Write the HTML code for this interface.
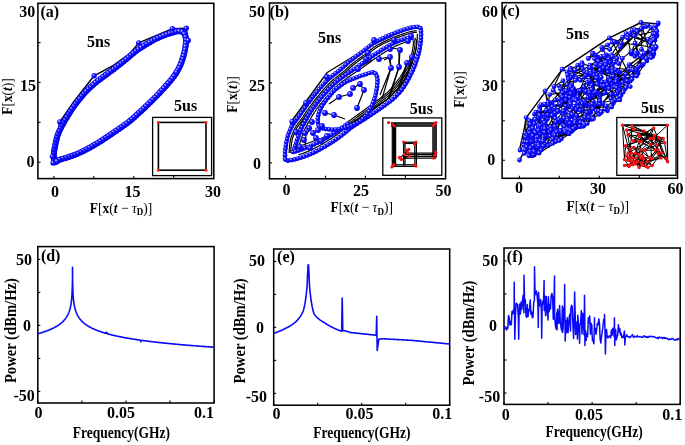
<!DOCTYPE html>
<html><head><meta charset="utf-8"><title>Figure</title>
<style>html,body{margin:0;padding:0;background:#fff;}svg{display:block;filter:blur(0.35px);}text{font-family:"Liberation Serif",serif;}</style>
</head><body>
<svg width="685" height="445" viewBox="0 0 685 445"><defs>
<radialGradient id="sb" cx="0.36" cy="0.34" r="0.62">
<stop offset="0" stop-color="#f0f0ff"/><stop offset="0.18" stop-color="#8080ff"/><stop offset="0.42" stop-color="#1414ff"/><stop offset="1" stop-color="#0000e8"/>
</radialGradient>
<radialGradient id="sr" cx="0.4" cy="0.38" r="0.6">
<stop offset="0" stop-color="#ffd0d0"/><stop offset="0.35" stop-color="#ff3030"/><stop offset="1" stop-color="#e00000"/>
</radialGradient>
</defs>
<path d="M55.5 147 L58.7 127.5 L59.8 122 L72.9 102.8 L94.1 75.8 L112 66.2 L130 53.3 L138.7 42.9 L172.4 28.7 L186.2 28.2 L188.2 40.4 L176.5 72.5" fill="none" stroke="#000" stroke-width="1.4" stroke-linejoin="round" />
<path d="M54.7 162 L54.5 161.6 L54.3 161 L54.1 160.3 L54 159.4 L53.9 158.5 L53.9 157.5 L53.8 156.5 L53.8 155.4 L53.9 154.4 L53.9 153.5 L54 152.6 L54.1 151.7 L54.2 150.7 L54.3 149.8 L54.5 148.8 L54.7 147.8 L54.9 146.9 L55.1 145.9 L55.3 145 L55.5 144 L55.7 143.1 L55.9 142.1 L56.1 141.1 L56.3 140.2 L56.6 139.2 L56.8 138.3 L57 137.4 L57.3 136.4 L57.6 135.5 L57.9 134.6 L58.2 133.7 L58.6 132.8 L58.9 132 L59.3 131.1 L59.7 130.3 L60.1 129.5 L60.5 128.6 L60.9 127.8 L61.3 126.9 L61.8 126 L62.3 125.1 L62.8 124.2 L63.3 123.3 L63.8 122.3 L64.3 121.4 L64.9 120.5 L65.5 119.5 L66.1 118.5 L66.7 117.5 L67.3 116.5 L67.9 115.5 L68.6 114.4 L69.2 113.4 L69.9 112.3 L70.6 111.2 L71.3 110.1 L72.1 109 L72.8 107.8 L73.7 106.7 L74.5 105.5 L75.4 104.3 L76.4 103 L77.4 101.7 L78.4 100.4 L79.5 99.1 L80.5 97.8 L81.6 96.5 L82.6 95.3 L83.6 94.1 L84.6 93 L85.5 92 L86.4 91 L87.3 90.1 L88.1 89.3 L89 88.5 L89.8 87.7 L90.7 86.9 L91.6 86.1 L92.5 85.3 L93.4 84.5 L94.4 83.7 L95.4 82.9 L96.4 82 L97.4 81.2 L98.4 80.4 L99.5 79.6 L100.5 78.8 L101.5 78.1 L102.6 77.3 L103.6 76.5 L104.6 75.7 L105.6 75 L106.6 74.3 L107.6 73.5 L108.6 72.8 L109.6 72.1 L110.6 71.4 L111.7 70.6 L112.7 69.8 L113.8 69 L114.9 68.2 L116 67.3 L117.2 66.4 L118.4 65.5 L119.6 64.5 L120.8 63.6 L122 62.6 L123.1 61.7 L124.3 60.7 L125.5 59.8 L126.6 58.9 L127.8 57.9 L128.9 56.9 L130 56 L131.1 55 L132.3 54 L133.4 53.1 L134.6 52.1 L135.8 51.2 L137 50.3 L138.3 49.4 L139.6 48.5 L141 47.6 L142.4 46.7 L143.8 45.8 L145.2 44.9 L146.5 44.1 L147.9 43.3 L149.2 42.5 L150.4 41.8 L151.6 41.1 L152.7 40.5 L153.7 39.9 L154.7 39.4 L155.7 38.9 L156.7 38.4 L157.7 37.9 L158.7 37.5 L159.7 37 L160.7 36.6 L161.7 36.2 L162.8 35.7 L163.9 35.3 L164.9 35 L166 34.6 L167 34.2 L168.1 33.9 L169.1 33.6 L170 33.3 L170.9 33 L171.7 32.7 L172.6 32.5 L173.3 32.2 L174.1 32 L174.8 31.8 L175.5 31.6 L176.1 31.5 L176.8 31.3 L177.4 31.3 L178 31.2 L178.6 31.2 L179.2 31.2 L179.8 31.2 L180.3 31.3 L180.9 31.4 L181.4 31.5 L181.8 31.7 L182.3 31.9 L182.7 32.1 L183.1 32.3 L183.5 32.6 L183.8 32.9 L184 33.2 L184.3 33.5 L184.5 33.9 L184.7 34.3 L184.9 34.7 L185.1 35.1 L185.3 35.6 L185.4 36 L185.5 36.4 L185.6 36.9 L185.7 37.4 L185.8 37.9 L185.9 38.4 L185.9 38.9 L186 39.4 L186 39.9 L186 40.5 L186 41 L186 41.5 L186 42.1 L186 42.6 L185.9 43.2 L185.9 43.7 L185.8 44.3 L185.7 44.9 L185.7 45.4 L185.6 46 L185.5 46.6 L185.4 47.2 L185.3 47.8 L185.2 48.4 L185.1 49 L185 49.6 L184.8 50.2 L184.7 50.9 L184.6 51.5 L184.4 52.1 L184.3 52.7 L184.2 53.3 L184 53.9 L183.9 54.5 L183.7 55.1 L183.5 55.7 L183.4 56.3 L183.2 56.9 L183 57.5 L182.8 58.2 L182.6 58.8 L182.4 59.5 L182.2 60.1 L182 60.8 L181.8 61.4 L181.5 62.1 L181.3 62.8 L181 63.5 L180.7 64.2 L180.4 65 L180 65.8 L179.6 66.6 L179.2 67.5 L178.7 68.4 L178.2 69.4 L177.7 70.3 L177.1 71.3 L176.6 72.3 L176 73.3 L175.3 74.2 L174.7 75.2 L174 76.1 L173.4 77.1 L172.6 78 L171.9 78.9 L171.1 79.9 L170.4 80.8 L169.6 81.8 L168.7 82.7 L167.9 83.7 L167 84.7 L166.1 85.7 L165.1 86.8 L164.2 87.9 L163.1 89 L162.1 90.1 L161.1 91.2 L160 92.3 L159 93.4 L158 94.5 L157 95.5 L156 96.5 L155 97.5 L154 98.5 L153 99.5 L152.1 100.5 L151.1 101.4 L150.2 102.3 L149.2 103.2 L148.3 104.1 L147.5 104.9 L146.7 105.7 L146 106.3 L145.4 107 L144.8 107.6 L144.2 108.1 L143.5 108.7 L142.9 109.3 L142.2 110 L141.4 110.7 L140.5 111.5 L139.5 112.4 L138.5 113.3 L137.4 114.3 L136.3 115.4 L135.1 116.5 L133.9 117.6 L132.6 118.7 L131.3 119.8 L130 120.9 L128.6 122 L127.2 123.1 L125.7 124.2 L124.2 125.3 L122.6 126.4 L121 127.5 L119.4 128.6 L117.7 129.7 L116.1 130.8 L114.5 131.9 L112.9 133 L111.3 134.1 L109.8 135.1 L108.2 136.2 L106.6 137.3 L105.1 138.3 L103.5 139.3 L101.9 140.4 L100.3 141.4 L98.8 142.3 L97.2 143.3 L95.6 144.2 L94 145.2 L92.4 146.1 L90.8 147 L89.2 147.9 L87.6 148.8 L86 149.6 L84.4 150.4 L82.9 151.2 L81.5 151.9 L80.1 152.6 L78.7 153.2 L77.4 153.7 L76.1 154.3 L74.8 154.8 L73.6 155.2 L72.4 155.7 L71.2 156.1 L70 156.5 L68.9 156.9 L67.8 157.3 L66.7 157.6 L65.7 157.9 L64.6 158.2 L63.7 158.5 L62.7 158.8 L61.8 159 L60.9 159.3 L60.1 159.5 L59.4 159.8 L58.7 160.1 L58.1 160.5 L57.5 160.8 L57 161.2 L56.5 161.6 L56.1 161.9 L55.7 162.1 L55.3 162.3 L55 162.2 L54.7 162" fill="none" stroke="#0a0afa" stroke-width="6.0" stroke-linejoin="round" />
<circle cx="54.7" cy="162" r="2.9" fill="url(#sb)"/><circle cx="53.9" cy="158.9" r="2.9" fill="url(#sb)"/><circle cx="53.8" cy="155.7" r="2.9" fill="url(#sb)"/><circle cx="54" cy="152.5" r="2.9" fill="url(#sb)"/><circle cx="54.4" cy="149.4" r="2.9" fill="url(#sb)"/><circle cx="55" cy="146.2" r="2.9" fill="url(#sb)"/><circle cx="55.7" cy="143.1" r="2.9" fill="url(#sb)"/><circle cx="56.4" cy="140" r="2.9" fill="url(#sb)"/><circle cx="57.2" cy="136.9" r="2.9" fill="url(#sb)"/><circle cx="58.2" cy="133.8" r="2.9" fill="url(#sb)"/><circle cx="59.4" cy="130.9" r="2.9" fill="url(#sb)"/><circle cx="60.8" cy="128" r="2.9" fill="url(#sb)"/><circle cx="62.2" cy="125.1" r="2.9" fill="url(#sb)"/><circle cx="63.8" cy="122.3" r="2.9" fill="url(#sb)"/><circle cx="65.4" cy="119.6" r="2.9" fill="url(#sb)"/><circle cx="67.1" cy="116.9" r="2.9" fill="url(#sb)"/><circle cx="68.8" cy="114.1" r="2.9" fill="url(#sb)"/><circle cx="70.5" cy="111.4" r="2.9" fill="url(#sb)"/><circle cx="72.2" cy="108.7" r="2.9" fill="url(#sb)"/><circle cx="74.1" cy="106.1" r="2.9" fill="url(#sb)"/><circle cx="76" cy="103.6" r="2.9" fill="url(#sb)"/><circle cx="77.9" cy="101" r="2.9" fill="url(#sb)"/><circle cx="79.9" cy="98.5" r="2.9" fill="url(#sb)"/><circle cx="82" cy="96.1" r="2.9" fill="url(#sb)"/><circle cx="84" cy="93.6" r="2.9" fill="url(#sb)"/><circle cx="86.2" cy="91.3" r="2.9" fill="url(#sb)"/><circle cx="88.5" cy="89" r="2.9" fill="url(#sb)"/><circle cx="90.8" cy="86.8" r="2.9" fill="url(#sb)"/><circle cx="93.2" cy="84.7" r="2.9" fill="url(#sb)"/><circle cx="95.6" cy="82.6" r="2.9" fill="url(#sb)"/><circle cx="98.1" cy="80.6" r="2.9" fill="url(#sb)"/><circle cx="100.7" cy="78.7" r="2.9" fill="url(#sb)"/><circle cx="103.2" cy="76.8" r="2.9" fill="url(#sb)"/><circle cx="105.8" cy="74.9" r="2.9" fill="url(#sb)"/><circle cx="108.4" cy="73" r="2.9" fill="url(#sb)"/><circle cx="111" cy="71.1" r="2.9" fill="url(#sb)"/><circle cx="113.6" cy="69.2" r="2.9" fill="url(#sb)"/><circle cx="116.1" cy="67.2" r="2.9" fill="url(#sb)"/><circle cx="118.6" cy="65.3" r="2.9" fill="url(#sb)"/><circle cx="121.1" cy="63.3" r="2.9" fill="url(#sb)"/><circle cx="123.6" cy="61.3" r="2.9" fill="url(#sb)"/><circle cx="126.1" cy="59.3" r="2.9" fill="url(#sb)"/><circle cx="128.6" cy="57.2" r="2.9" fill="url(#sb)"/><circle cx="131" cy="55.1" r="2.9" fill="url(#sb)"/><circle cx="133.4" cy="53.1" r="2.9" fill="url(#sb)"/><circle cx="135.9" cy="51.1" r="2.9" fill="url(#sb)"/><circle cx="138.5" cy="49.2" r="2.9" fill="url(#sb)"/><circle cx="141.2" cy="47.4" r="2.9" fill="url(#sb)"/><circle cx="143.9" cy="45.7" r="2.9" fill="url(#sb)"/><circle cx="146.6" cy="44" r="2.9" fill="url(#sb)"/><circle cx="149.4" cy="42.4" r="2.9" fill="url(#sb)"/><circle cx="152.1" cy="40.8" r="2.9" fill="url(#sb)"/><circle cx="155" cy="39.3" r="2.9" fill="url(#sb)"/><circle cx="157.8" cy="37.9" r="2.9" fill="url(#sb)"/><circle cx="160.8" cy="36.6" r="2.9" fill="url(#sb)"/><circle cx="163.7" cy="35.4" r="2.9" fill="url(#sb)"/><circle cx="166.7" cy="34.3" r="2.9" fill="url(#sb)"/><circle cx="169.8" cy="33.3" r="2.9" fill="url(#sb)"/><circle cx="172.8" cy="32.4" r="2.9" fill="url(#sb)"/><circle cx="175.9" cy="31.5" r="2.9" fill="url(#sb)"/><circle cx="179.1" cy="31.2" r="2.9" fill="url(#sb)"/><circle cx="182.2" cy="31.8" r="2.9" fill="url(#sb)"/><circle cx="184.5" cy="33.9" r="2.9" fill="url(#sb)"/><circle cx="185.6" cy="36.9" r="2.9" fill="url(#sb)"/><circle cx="186" cy="40.1" r="2.9" fill="url(#sb)"/><circle cx="185.9" cy="43.3" r="2.9" fill="url(#sb)"/><circle cx="185.5" cy="46.5" r="2.9" fill="url(#sb)"/><circle cx="185" cy="49.6" r="2.9" fill="url(#sb)"/><circle cx="184.3" cy="52.8" r="2.9" fill="url(#sb)"/><circle cx="183.5" cy="55.9" r="2.9" fill="url(#sb)"/><circle cx="182.6" cy="58.9" r="2.9" fill="url(#sb)"/><circle cx="181.6" cy="62" r="2.9" fill="url(#sb)"/><circle cx="180.4" cy="64.9" r="2.9" fill="url(#sb)"/><circle cx="179" cy="67.8" r="2.9" fill="url(#sb)"/><circle cx="177.5" cy="70.6" r="2.9" fill="url(#sb)"/><circle cx="175.9" cy="73.4" r="2.9" fill="url(#sb)"/><circle cx="174.1" cy="76.1" r="2.9" fill="url(#sb)"/><circle cx="172.2" cy="78.6" r="2.9" fill="url(#sb)"/><circle cx="170.1" cy="81.1" r="2.9" fill="url(#sb)"/><circle cx="168" cy="83.5" r="2.9" fill="url(#sb)"/><circle cx="165.9" cy="85.9" r="2.9" fill="url(#sb)"/><circle cx="163.8" cy="88.3" r="2.9" fill="url(#sb)"/><circle cx="161.6" cy="90.6" r="2.9" fill="url(#sb)"/><circle cx="159.4" cy="93" r="2.9" fill="url(#sb)"/><circle cx="157.2" cy="95.3" r="2.9" fill="url(#sb)"/><circle cx="155" cy="97.6" r="2.9" fill="url(#sb)"/><circle cx="152.7" cy="99.8" r="2.9" fill="url(#sb)"/><circle cx="150.4" cy="102.1" r="2.9" fill="url(#sb)"/><circle cx="148.1" cy="104.3" r="2.9" fill="url(#sb)"/><circle cx="145.8" cy="106.5" r="2.9" fill="url(#sb)"/><circle cx="143.5" cy="108.7" r="2.9" fill="url(#sb)"/><circle cx="141.2" cy="110.9" r="2.9" fill="url(#sb)"/><circle cx="138.8" cy="113.1" r="2.9" fill="url(#sb)"/><circle cx="136.5" cy="115.2" r="2.9" fill="url(#sb)"/><circle cx="134.1" cy="117.4" r="2.9" fill="url(#sb)"/><circle cx="131.7" cy="119.5" r="2.9" fill="url(#sb)"/><circle cx="129.2" cy="121.5" r="2.9" fill="url(#sb)"/><circle cx="126.7" cy="123.5" r="2.9" fill="url(#sb)"/><circle cx="124.1" cy="125.3" r="2.9" fill="url(#sb)"/><circle cx="121.5" cy="127.2" r="2.9" fill="url(#sb)"/><circle cx="118.8" cy="129" r="2.9" fill="url(#sb)"/><circle cx="116.2" cy="130.8" r="2.9" fill="url(#sb)"/><circle cx="113.5" cy="132.6" r="2.9" fill="url(#sb)"/><circle cx="110.9" cy="134.4" r="2.9" fill="url(#sb)"/><circle cx="108.2" cy="136.2" r="2.9" fill="url(#sb)"/><circle cx="105.6" cy="138" r="2.9" fill="url(#sb)"/><circle cx="102.9" cy="139.7" r="2.9" fill="url(#sb)"/><circle cx="100.2" cy="141.4" r="2.9" fill="url(#sb)"/><circle cx="97.5" cy="143.1" r="2.9" fill="url(#sb)"/><circle cx="94.7" cy="144.8" r="2.9" fill="url(#sb)"/><circle cx="92" cy="146.4" r="2.9" fill="url(#sb)"/><circle cx="89.2" cy="147.9" r="2.9" fill="url(#sb)"/><circle cx="86.3" cy="149.4" r="2.9" fill="url(#sb)"/><circle cx="83.5" cy="150.9" r="2.9" fill="url(#sb)"/><circle cx="80.6" cy="152.3" r="2.9" fill="url(#sb)"/><circle cx="77.7" cy="153.6" r="2.9" fill="url(#sb)"/><circle cx="74.7" cy="154.8" r="2.9" fill="url(#sb)"/><circle cx="71.7" cy="155.9" r="2.9" fill="url(#sb)"/><circle cx="68.7" cy="157" r="2.9" fill="url(#sb)"/><circle cx="65.7" cy="157.9" r="2.9" fill="url(#sb)"/><circle cx="62.6" cy="158.8" r="2.9" fill="url(#sb)"/><circle cx="59.5" cy="159.8" r="2.9" fill="url(#sb)"/><circle cx="56.8" cy="161.4" r="2.9" fill="url(#sb)"/>
<circle cx="59.8" cy="122" r="2.7" fill="url(#sb)"/><circle cx="94.1" cy="75.8" r="2.7" fill="url(#sb)"/><circle cx="138.7" cy="42.9" r="2.7" fill="url(#sb)"/><circle cx="172.4" cy="28.7" r="2.7" fill="url(#sb)"/><circle cx="186.2" cy="28.2" r="2.7" fill="url(#sb)"/><circle cx="188.2" cy="40.4" r="2.7" fill="url(#sb)"/><circle cx="176.5" cy="72.5" r="2.7" fill="url(#sb)"/><circle cx="53.1" cy="162.9" r="2.7" fill="url(#sb)"/><circle cx="52.4" cy="156.6" r="2.7" fill="url(#sb)"/>
<path d="M285.5 151 L291.3 121.5 L327.2 72.5 L372 45 L412 27" fill="none" stroke="#000" stroke-width="1.3" stroke-linejoin="round" />
<path d="M289.1 152.9 L289.2 150.3 L289.5 147.7 L289.7 145.1 L290 142.7 L290.3 140.7 L290.7 139 L291.2 137.3 L291.7 135.7 L292.3 134.1 L292.9 132.7 L293.5 131.2 L294.1 129.9 L294.7 128.6 L295.3 127.5 L295.8 126.7 L296.3 125.9 L296.8 125.2 L297.5 124.4 L298.2 123.4 L299 122.3 L300 121.1 L300.9 119.6 L302 118.1 L303.1 116.5 L304.2 114.8 L305.4 113.1 L306.5 111.4 L307.7 109.8 L308.9 108.1 L310.1 106.5 L311.3 104.9 L312.5 103.3 L313.7 101.7 L314.9 100.1 L316.2 98.5 L317.5 96.9 L318.8 95.3 L320.1 93.7 L321.5 92 L322.9 90.4 L324.3 88.7 L325.7 87.1 L327.1 85.6 L328.5 84.1 L330 82.6 L331.5 81.2 L333.1 79.8 L334.9 78.4 L336.6 77 L338.4 75.7 L340.1 74.3 L341.8 73 L343.3 71.8 L344.7 70.6 L345.9 69.5 L347 68.5 L348 67.5 L349 66.6 L350 65.7 L351.1 64.8 L352.3 63.8 L353.6 62.8 L355 61.7 L356.4 60.6 L358 59.5 L359.5 58.3 L361.1 57.2 L362.6 56 L364.2 54.9 L365.7 53.7 L367.2 52.5 L368.6 51.4 L370 50.3 L371.4 49.2 L372.8 48.1 L374.3 47.1 L375.9 46.1 L377.6 45.1 L379.4 44.1 L381.3 43.1 L383.2 42.1 L385.2 41.1 L387.3 40.1 L389.3 39.2 L391.4 38.3 L393.6 37.4 L395.9 36.5 L398.2 35.6 L400.6 34.7 L402.9 33.9 L405.1 33.2 L407.2 32.5 L409 32 L410.5 31.6 L411.9 31.3 L413.3 31.1 L414.5 30.9 L415.6 30.8 L416.7 30.7" fill="none" stroke="#000" stroke-width="1.2" stroke-linejoin="round" />
<path d="M290.7 153 L290.8 150.4 L291 147.8 L291.3 145.2 L291.6 142.9 L291.9 141 L292.3 139.3 L292.7 137.7 L293.2 136.2 L293.8 134.7 L294.3 133.3 L294.9 131.9 L295.6 130.6 L296.2 129.3 L296.7 128.3 L297.1 127.5 L297.6 126.8 L298.1 126.1 L298.7 125.3 L299.5 124.4 L300.3 123.3 L301.3 122 L302.2 120.5 L303.3 119 L304.4 117.4 L305.5 115.7 L306.7 114 L307.9 112.3 L309 110.7 L310.2 109.1 L311.4 107.5 L312.6 105.9 L313.8 104.3 L315 102.7 L316.2 101.1 L317.4 99.5 L318.7 97.9 L320 96.3 L321.4 94.7 L322.7 93 L324.1 91.4 L325.5 89.8 L326.9 88.2 L328.3 86.7 L329.7 85.2 L331.1 83.8 L332.6 82.4 L334.2 81 L335.9 79.7 L337.6 78.3 L339.4 76.9 L341.1 75.6 L342.8 74.3 L344.3 73 L345.7 71.8 L347 70.7 L348.1 69.6 L349.1 68.7 L350.1 67.8 L351.1 66.9 L352.1 66 L353.3 65 L354.6 64 L355.9 63 L357.4 61.9 L358.9 60.7 L360.4 59.6 L362 58.5 L363.6 57.3 L365.1 56.1 L366.7 55 L368.2 53.8 L369.6 52.6 L371 51.5 L372.4 50.4 L373.7 49.4 L375.2 48.4 L376.7 47.4 L378.4 46.5 L380.2 45.5 L382 44.5 L383.9 43.5 L385.9 42.5 L387.9 41.6 L390 40.7 L392 39.8 L394.2 38.9 L396.4 38 L398.8 37.1 L401.1 36.2 L403.4 35.4 L405.6 34.7 L407.7 34 L409.4 33.5 L410.9 33.1 L412.2 32.9 L413.5 32.7 L414.7 32.5 L415.8 32.4 L416.8 32.3" fill="none" stroke="#000" stroke-width="1.2" stroke-linejoin="round" />
<path d="M297.7 149 L298.2 147.6 L298.7 146.2 L299.3 144.7 L299.8 143.2 L300.4 141.6 L300.9 139.8 L301.5 138 L302.2 136.2 L302.8 134.4 L303.4 132.6 L304.1 130.9 L304.7 129.4 L305.4 128 L306 126.6 L306.8 125.3 L307.5 123.9 L308.2 122.6 L309 121.4 L309.8 120.1 L310.5 118.8 L311.2 117.5 L311.9 116.4 L312.6 115.2 L313.3 114.2 L313.9 113.1 L314.7 112 L315.5 110.8 L316.3 109.5 L317.3 108.2 L318.4 106.8 L319.5 105.3 L320.7 103.8 L321.9 102.3 L323.1 100.8 L324.4 99.3 L325.6 97.8 L327 96.3 L328.3 94.8 L329.7 93.3 L331.1 91.8 L332.5 90.3 L333.9 88.9 L335.4 87.4 L336.8 86.1 L338.3 84.8 L339.9 83.5 L341.4 82.3 L343 81.1 L344.7 79.9 L346.3 78.7 L347.9 77.5 L349.5 76.3 L351.1 75.2 L352.6 74.2 L354.1 73.2 L355.6 72.2 L357.2 71.1 L358.7 70.1 L360.3 69 L362 67.9 L363.7 66.7 L365.4 65.4 L367.1 64.2 L368.8 62.9 L370.6 61.7 L372.3 60.4 L374.1 59.1 L376 57.9 L377.9 56.6 L379.8 55.3 L381.8 54 L383.9 52.7 L385.9 51.4 L387.9 50.2 L389.8 49.1 L391.7 48.1 L393.5 47.2 L395.3 46.3 L397.1 45.4 L398.9 44.7 L400.6 44 L402.2 43.3 L403.7 42.8 L405 42.3 L406.2 42 L407.2 41.8" fill="none" stroke="#000" stroke-width="1.2" stroke-linejoin="round" />
<path d="M417.4 33.8 L417.3 35.8 L417.3 37.9 L417.1 40.2 L417 42.4 L416.8 44.5 L416.5 46.5 L416.2 48.3 L415.8 50.1 L415.4 52 L414.9 53.8 L414.3 55.6 L413.8 57.4 L413.2 59.2 L412.7 60.9 L412.1 62.5 L411.6 63.9 L411.1 65.4 L410.5 66.7 L409.9 68.1 L409.3 69.5 L408.6 70.9 L407.9 72.4 L407 74.1 L406.1 75.8 L405.2 77.6 L404.2 79.4 L403.2 81.2 L402.2 82.9 L401.1 84.5 L400.1 86 L399.1 87.3 L398.1 88.6 L397 89.9 L395.9 91.1 L394.8 92.2 L393.7 93.4 L392.7 94.4 L391.6 95.5 L390.6 96.4 L389.8 97.1 L389.1 97.7 L388.4 98.3 L387.5 98.9 L386.5 99.7 L385.3 100.6 L383.8 101.7 L381.9 103 L379.7 104.5 L377.4 106.2 L374.8 107.9 L372.3 109.7 L369.7 111.5 L367.3 113.1 L365.1 114.6 L363 115.9 L361.1 117.1 L359.2 118.3 L357.3 119.4 L355.4 120.6 L353.6 121.7 L351.8 122.9 L350 124.2 L348.2 125.5 L346.5 126.8 L344.9 128.1 L343.4 129.4 L341.9 130.7 L340.4 131.9 L339 133.1 L337.5 134.2 L336 135.2 L334.6 136.3 L333.1 137.3 L331.6 138.3 L330.1 139.2 L328.6 140.1 L327.1 141.1 L325.6 142 L324 142.9 L322.5 143.9 L321 144.8 L319.5 145.6 L317.9 146.5 L316.4 147.3 L314.9 148.1 L313.5 148.9 L312 149.6 L310.5 150.2 L309 150.9 L307.6 151.5 L306.1 152.1 L304.6 152.6 L303.2 153.2 L301.7 153.7 L300.2 154.2 L298.5 154.6" fill="none" stroke="#000" stroke-width="1.2" stroke-linejoin="round" />
<path d="M296 150 L300 128 L310 112 L318 104" fill="none" stroke="#000" stroke-width="1.2" stroke-linejoin="round" />
<path d="M305 148 L306 134 L312 128" fill="none" stroke="#000" stroke-width="1.2" stroke-linejoin="round" />
<path d="M384 60 L390 57 L391 68 L382 99" fill="none" stroke="#000" stroke-width="1.2" stroke-linejoin="round" />
<path d="M400 50 L399 67 L389 99" fill="none" stroke="#000" stroke-width="1.2" stroke-linejoin="round" />
<path d="M407 63 L398 95" fill="none" stroke="#000" stroke-width="1.2" stroke-linejoin="round" />
<path d="M412 57 L405 84" fill="none" stroke="#000" stroke-width="1.2" stroke-linejoin="round" />
<path d="M379 59 L389 57" fill="none" stroke="#000" stroke-width="1.2" stroke-linejoin="round" />
<path d="M389 48 L399 49" fill="none" stroke="#000" stroke-width="1.2" stroke-linejoin="round" />
<path d="M389 57 L391 68" fill="none" stroke="#000" stroke-width="1.2" stroke-linejoin="round" />
<path d="M399 49 L399 67" fill="none" stroke="#000" stroke-width="1.2" stroke-linejoin="round" />
<path d="M391 68 L380 95" fill="none" stroke="#000" stroke-width="1.2" stroke-linejoin="round" />
<path d="M399 67 L388 99" fill="none" stroke="#000" stroke-width="1.2" stroke-linejoin="round" />
<path d="M407 62 L396 95" fill="none" stroke="#000" stroke-width="1.2" stroke-linejoin="round" />
<path d="M394 40 L408 41" fill="none" stroke="#000" stroke-width="1.2" stroke-linejoin="round" />
<path d="M325 113 L334 115 L345 119" fill="none" stroke="#000" stroke-width="1.2" stroke-linejoin="round" />
<path d="M329 104 L339 97 L350 94" fill="none" stroke="#000" stroke-width="1.2" stroke-linejoin="round" />
<path d="M353 88 L360 84 L364 90 L357 108" fill="none" stroke="#000" stroke-width="1.2" stroke-linejoin="round" />
<path d="M356 125 L372 110 L386 100" fill="none" stroke="#000" stroke-width="1.2" stroke-linejoin="round" />
<path d="M340 130 L362 118 L380 104" fill="none" stroke="#000" stroke-width="1.2" stroke-linejoin="round" />
<path d="M300 146 L322 138 L344 128 L366 114 L388 99 L404 82 L413 62" fill="none" stroke="#000" stroke-width="1.2" stroke-linejoin="round" />
<path d="M318 104 L326 92 L340 80 L356 69 L372 60" fill="none" stroke="#000" stroke-width="1.2" stroke-linejoin="round" />
<path d="M296 136 L303 120 L316 104" fill="none" stroke="#000" stroke-width="1.2" stroke-linejoin="round" />
<path d="M413.6 39.2 L414.1 39.7 L414.5 40.3 L414.8 41 L415 42 L415 43.2 L414.9 44.6 L414.7 46.3 L414.5 48 L414.2 49.8 L413.8 51.6 L413.4 53.4 L413 55 L412.5 56.5 L412 58 L411.5 59.5 L410.9 61 L410.2 62.5 L409.5 64 L408.8 65.5 L408 67 L407.2 68.6 L406.3 70.2 L405.4 71.8 L404.4 73.4 L403.4 75.1 L402.3 76.7 L401.2 78.4 L400 80 L398.8 81.6 L397.5 83.3 L396.2 85 L394.9 86.6 L393.5 88.3 L392 89.9 L390.5 91.5 L389 93 L387.4 94.5 L385.7 95.9 L384 97.3 L382.2 98.6 L380.5 100 L378.6 101.3 L376.8 102.6 L375 104 L373.2 105.4 L371.3 106.8 L369.4 108.2 L367.5 109.6 L365.6 110.9 L363.7 112.3 L361.8 113.7 L360 115 L358.2 116.3 L356.4 117.6 L354.7 118.9 L352.9 120.1 L351.2 121.4 L349.4 122.6 L347.7 123.8 L346 125" fill="none" stroke="#000" stroke-width="1.15" stroke-linejoin="round" />
<path d="M412.6 40.4 L412.9 40.7 L413.1 41 L413.3 41.5 L413.4 42.1 L413.4 43.2 L413.3 44.5 L413.2 46.1 L412.9 47.8 L412.6 49.5 L412.3 51.3 L411.9 53 L411.5 54.6 L411 56.1 L410.5 57.5 L410 58.9 L409.4 60.4 L408.8 61.8 L408.1 63.3 L407.4 64.7 L406.6 66.3 L405.8 67.8 L404.9 69.4 L404 71 L403 72.6 L402 74.2 L400.9 75.8 L399.9 77.5 L398.7 79.1 L397.5 80.7 L396.3 82.3 L395 84 L393.6 85.6 L392.3 87.2 L390.9 88.8 L389.4 90.4 L387.9 91.8 L386.3 93.3 L384.7 94.7 L383 96 L381.3 97.3 L379.5 98.7 L377.7 100 L375.9 101.4 L374 102.7 L372.2 104.1 L370.3 105.5 L368.5 106.9 L366.6 108.3 L364.7 109.7 L362.8 111 L360.9 112.4 L359.1 113.7 L357.3 115 L355.5 116.3 L353.7 117.6 L352 118.8 L350.2 120.1 L348.5 121.3 L346.8 122.5 L345.1 123.7" fill="none" stroke="#000" stroke-width="1.15" stroke-linejoin="round" />
<path d="M414.7 38 L415.3 38.6 L415.9 39.5 L416.4 40.6 L416.6 41.9 L416.6 43.2 L416.5 44.8 L416.3 46.5 L416.1 48.2 L415.8 50.1 L415.4 51.9 L415 53.7 L414.5 55.4 L414.1 57 L413.5 58.6 L413 60.1 L412.3 61.6 L411.7 63.1 L411 64.6 L410.2 66.2 L409.4 67.7 L408.6 69.3 L407.7 71 L406.7 72.6 L405.7 74.3 L404.7 75.9 L403.6 77.6 L402.5 79.3 L401.3 80.9 L400.1 82.6 L398.8 84.3 L397.5 86 L396.1 87.6 L394.7 89.3 L393.2 91 L391.7 92.6 L390.1 94.2 L388.5 95.7 L386.8 97.1 L385 98.5 L383.2 99.9 L381.4 101.2 L379.6 102.6 L377.8 103.9 L376 105.3 L374.1 106.7 L372.2 108.1 L370.4 109.5 L368.4 110.9 L366.5 112.2 L364.6 113.6 L362.8 115 L360.9 116.3 L359.1 117.6 L357.4 118.9 L355.6 120.2 L353.8 121.4 L352.1 122.7 L350.4 123.9 L348.6 125.1 L346.9 126.3 L345.2 127.5" fill="none" stroke="#000" stroke-width="1.15" stroke-linejoin="round" />
<path d="M285.1 158.5 L285 157.3 L284.9 155.8 L285 154 L285.1 152 L285.3 150 L285.6 147.8 L285.8 145.7 L286.2 143.6 L286.5 141.7 L286.8 140 L287.1 138.5 L287.5 137 L288 135.5 L288.4 134.2 L288.9 132.8 L289.4 131.6 L289.9 130.4 L290.5 129.2 L291 128.1 L291.5 127 L292 126 L292.5 125.2 L293 124.4 L293.5 123.7 L294 123 L294.5 122.3 L295.1 121.6 L295.7 120.8 L296.3 120 L297 119 L297.8 117.9 L298.6 116.7 L299.4 115.5 L300.3 114.2 L301.2 112.8 L302.2 111.4 L303.1 110.1 L304.1 108.7 L305 107.3 L306 106 L307 104.7 L307.9 103.4 L308.9 102.1 L309.9 100.8 L310.8 99.5 L311.8 98.2 L312.9 96.9 L313.9 95.6 L314.9 94.3 L316 93 L317.1 91.7 L318.2 90.4 L319.3 89 L320.4 87.7 L321.5 86.4 L322.7 85.1 L323.9 83.8 L325 82.5 L326.3 81.2 L327.5 80 L328.8 78.8 L330.1 77.6 L331.5 76.5 L333 75.3 L334.4 74.2 L335.8 73.1 L337.2 72 L338.6 71 L339.8 70 L341 69 L342.1 68.1 L343 67.2 L343.9 66.4 L344.8 65.6 L345.6 64.9 L346.4 64.1 L347.2 63.4 L348.1 62.6 L349 61.8 L350 61 L351.1 60.1 L352.2 59.3 L353.4 58.4 L354.6 57.5 L355.8 56.6 L357.1 55.6 L358.3 54.7 L359.6 53.8 L360.8 52.9 L362 52 L363.2 51.1 L364.3 50.2 L365.5 49.3 L366.6 48.4 L367.8 47.4 L368.9 46.5 L370.1 45.6 L371.3 44.7 L372.6 43.9 L374 43 L375.4 42.2 L376.9 41.3 L378.4 40.5 L380 39.7 L381.6 38.8 L383.3 38 L384.9 37.3 L386.6 36.5 L388.3 35.7 L390 35 L391.8 34.3 L393.6 33.5 L395.5 32.8 L397.4 32.1 L399.4 31.3 L401.3 30.7 L403.1 30 L404.9 29.5 L406.5 28.9 L408 28.5 L409.4 28.1 L410.6 27.8 L411.8 27.5 L412.9 27.3 L413.9 27.1 L414.9 27 L415.8 26.9 L416.6 26.9 L417.3 26.9 L418 27 L418.6 27.1 L419.1 27.3 L419.5 27.4 L419.9 27.6 L420.2 27.9 L420.4 28.3 L420.6 28.7 L420.8 29.3 L420.9 30.1 L421 31 L421.1 32.1 L421.1 33.4 L421.1 34.9 L421 36.6 L420.9 38.3 L420.8 40.1 L420.6 41.9 L420.5 43.7 L420.2 45.4 L420 47 L419.7 48.6 L419.4 50.1 L419.1 51.7 L418.7 53.2 L418.2 54.8 L417.8 56.3 L417.4 57.8 L416.9 59.2 L416.5 60.6 L416 62 L415.6 63.3 L415.1 64.6 L414.7 65.8 L414.2 66.9 L413.8 68.1 L413.3 69.2 L412.8 70.3 L412.2 71.5 L411.6 72.7 L411 74 L410.3 75.3 L409.6 76.7 L408.9 78.2 L408.1 79.6 L407.2 81.1 L406.4 82.6 L405.6 84 L404.7 85.4 L403.9 86.8 L403 88 L402.1 89.2 L401.3 90.3 L400.3 91.4 L399.4 92.5 L398.5 93.5 L397.6 94.4 L396.7 95.4 L395.8 96.3 L394.9 97.2 L394 98 L393.2 98.8 L392.5 99.4 L391.8 100 L391.2 100.5 L390.5 101.1 L389.8 101.6 L389 102.2 L388.1 102.8 L387 103.6 L385.8 104.5 L384.3 105.6 L382.7 106.7 L380.8 108 L378.9 109.4 L376.8 110.8 L374.8 112.2 L372.7 113.7 L370.7 115 L368.8 116.3 L367 117.5 L365.3 118.6 L363.7 119.6 L362.1 120.6 L360.6 121.5 L359.1 122.4 L357.6 123.3 L356.2 124.2 L354.8 125.1 L353.4 126 L352 127 L350.7 128 L349.4 129 L348.1 130 L346.8 131.1 L345.6 132.1 L344.4 133.1 L343.2 134.1 L342 135.1 L340.8 136.1 L339.6 137 L338.4 137.9 L337.2 138.7 L335.9 139.6 L334.7 140.4 L333.5 141.2 L332.3 142 L331.1 142.7 L329.8 143.5 L328.6 144.2 L327.4 145 L326.2 145.7 L324.9 146.5 L323.7 147.2 L322.4 148 L321.2 148.7 L320 149.4 L318.7 150.1 L317.5 150.7 L316.2 151.4 L315 152 L313.8 152.6 L312.5 153.2 L311.3 153.7 L310.1 154.2 L308.9 154.7 L307.7 155.2 L306.5 155.7 L305.2 156.1 L304 156.6 L302.8 157 L301.5 157.4 L300.2 157.8 L298.9 158.2 L297.6 158.6 L296.2 159 L294.9 159.4 L293.7 159.7 L292.5 159.9 L291.5 160.1 L290.5 160.2 L289.6 160.3 L288.9 160.4 L288.1 160.6 L287.5 160.7 L286.9 160.7 L286.4 160.6 L286 160.4 L285.6 160 L285.3 159.4 L285.1 158.5" fill="none" stroke="#0a0afa" stroke-width="3.4" stroke-linejoin="round" />
<path d="M293 152 L293.3 151.3 L293.6 150.3 L294 149.2 L294.4 147.9 L294.9 146.5 L295.4 145 L296 143.5 L296.5 142 L297 140.4 L297.6 138.7 L298.2 136.9 L298.8 135.1 L299.5 133.2 L300.1 131.4 L300.8 129.6 L301.5 128 L302.2 126.5 L302.9 125 L303.7 123.6 L304.4 122.2 L305.2 120.9 L306 119.6 L306.7 118.3 L307.5 117 L308.2 115.8 L308.9 114.6 L309.6 113.4 L310.3 112.3 L311 111.2 L311.8 110 L312.6 108.8 L313.5 107.5 L314.5 106.1 L315.6 104.7 L316.7 103.2 L317.9 101.7 L319.1 100.1 L320.4 98.6 L321.7 97 L323 95.5 L324.3 94 L325.7 92.5 L327.1 90.9 L328.5 89.4 L330 87.9 L331.5 86.4 L333 84.9 L334.5 83.5 L336.1 82.1 L337.7 80.8 L339.3 79.5 L340.9 78.3 L342.6 77.1 L344.2 75.8 L345.9 74.7 L347.5 73.5 L349.1 72.4 L350.6 71.3 L352.2 70.3 L353.7 69.2 L355.2 68.2 L356.8 67.2 L358.4 66.1 L360 65 L361.7 63.8 L363.3 62.6 L365.1 61.4 L366.8 60.1 L368.5 58.8 L370.3 57.5 L372.1 56.3 L374 55 L375.9 53.7 L377.9 52.4 L379.9 51.1 L382 49.8 L384.1 48.5 L386.1 47.2 L388.1 46.1 L390 45 L391.9 44 L393.8 43.1 L395.7 42.2 L397.5 41.4 L399.3 40.7 L401 40.1 L402.6 39.5 L404 39 L405.3 38.6 L406.6 38.4 L407.8 38.2 L408.9 38.1 L409.8 38.1 L410.7 38.1 L411.4 38 L412 38" fill="none" stroke="#0a0afa" stroke-width="3.4" stroke-linejoin="round" />
<path d="M347.7 123.8 L346 125 L344.3 126.2 L342.7 127.3 L341.1 128.4 L339.5 129.5 L337.9 130.6 L336.2 131.7 L334.5 132.8 L332.6 134 L330.6 135.2 L328.4 136.5 L326.2 137.9 L323.9 139.2 L321.6 140.5 L319.3 141.8 L317.1 142.9 L315 144 L312.9 145 L310.9 145.9 L308.8 146.7 L306.8 147.5 L304.9 148.2 L303.1 148.9 L301.5 149.5 L300 150 L298.7 150.5 L297.5 150.8 L296.5 151.1 L295.6 151.4 L294.8 151.6 L294.1 151.7 L293.5 151.9 L293 152" fill="none" stroke="#0a0afa" stroke-width="3.4" stroke-linejoin="round" />
<path d="M318.5 125 L318.3 124.4 L318.1 123.7 L317.9 123 L317.8 122.2 L317.8 121.3 L317.8 120.5 L317.8 119.6 L317.8 118.7 L317.9 117.9 L318 117 L318.1 116.1 L318.3 115.3 L318.5 114.4 L318.8 113.5 L319.1 112.6 L319.4 111.6 L319.8 110.7 L320.2 109.8 L320.6 108.9 L321 108 L321.5 107.1 L322 106.2 L322.5 105.3 L323.1 104.4 L323.7 103.5 L324.3 102.6 L325 101.7 L325.6 100.8 L326.3 99.9 L327 99 L327.7 98.1 L328.4 97.2 L329.2 96.3 L330 95.3 L330.8 94.4 L331.6 93.5 L332.4 92.6 L333.2 91.7 L334.1 90.8 L335 90 L335.9 89.2 L336.9 88.4 L337.9 87.5 L338.9 86.7 L339.9 86 L340.9 85.2 L341.9 84.5 L343 83.8 L344 83.1 L345 82.5 L346 81.9 L347 81.4 L348 80.9 L349 80.4 L350 80 L351 79.6 L352 79.2 L353 78.8 L354 78.4 L355 78 L356 77.6 L357 77.2 L358 76.8 L359 76.5 L360.1 76.1 L361.1 75.7 L362.1 75.4 L363.1 75.1 L364 74.8 L365 74.5 L366 74.2 L367 73.9 L367.9 73.5 L368.9 73.1 L369.9 72.8 L370.8 72.5 L371.7 72.4 L372.6 72.3 L373.3 72.3 L374 72.5 L374.6 72.8 L375.1 73.2 L375.6 73.8 L376.1 74.4 L376.5 75.1 L376.8 75.9 L377.1 76.8 L377.3 77.7 L377.4 78.8 L377.5 80 L377.5 81.3 L377.4 82.8 L377.3 84.5 L377.1 86.3 L376.8 88.1 L376.5 90 L376.2 91.8 L375.8 93.6 L375.4 95.4 L375 97 L374.6 98.5 L374.1 100.1 L373.5 101.6 L372.9 103 L372.3 104.5 L371.7 105.9 L371.1 107.2 L370.4 108.5 L369.7 109.8 L369 111 L368.3 112.1 L367.6 113.2 L366.9 114.3 L366.1 115.3 L365.4 116.2 L364.6 117.2 L363.8 118 L362.9 118.9 L362 119.7 L361 120.5 L360 121.3 L358.9 122 L357.8 122.7 L356.6 123.3 L355.4 123.9 L354.1 124.5 L352.9 125 L351.6 125.5 L350.3 126 L349 126.5 L347.7 126.9 L346.3 127.4 L344.9 127.7 L343.4 128.1 L342 128.4 L340.6 128.7 L339.1 129 L337.7 129.2 L336.3 129.4 L335 129.5 L333.7 129.6 L332.4 129.6 L331 129.6 L329.7 129.5 L328.4 129.4 L327.2 129.3 L326 129.1 L324.9 128.9 L323.9 128.7 L323 128.5 L322.2 128.3 L321.6 128 L321 127.8 L320.5 127.5 L320 127.2 L319.7 126.8 L319.3 126.5 L319 126 L318.8 125.5 L318.5 125" fill="none" stroke="#0a0afa" stroke-width="3.4" stroke-linejoin="round" />
<circle cx="285.1" cy="158.5" r="2.35" fill="url(#sb)"/><circle cx="285" cy="155.2" r="2.35" fill="url(#sb)"/><circle cx="285.1" cy="151.9" r="2.35" fill="url(#sb)"/><circle cx="285.5" cy="148.6" r="2.35" fill="url(#sb)"/><circle cx="285.9" cy="145.4" r="2.35" fill="url(#sb)"/><circle cx="286.4" cy="142.1" r="2.35" fill="url(#sb)"/><circle cx="287.1" cy="138.9" r="2.35" fill="url(#sb)"/><circle cx="287.9" cy="135.7" r="2.35" fill="url(#sb)"/><circle cx="289" cy="132.6" r="2.35" fill="url(#sb)"/><circle cx="290.3" cy="129.5" r="2.35" fill="url(#sb)"/><circle cx="291.7" cy="126.6" r="2.35" fill="url(#sb)"/><circle cx="293.4" cy="123.7" r="2.35" fill="url(#sb)"/><circle cx="295.4" cy="121.1" r="2.35" fill="url(#sb)"/><circle cx="297.4" cy="118.4" r="2.35" fill="url(#sb)"/><circle cx="299.2" cy="115.7" r="2.35" fill="url(#sb)"/><circle cx="301.1" cy="113" r="2.35" fill="url(#sb)"/><circle cx="303" cy="110.3" r="2.35" fill="url(#sb)"/><circle cx="304.9" cy="107.6" r="2.35" fill="url(#sb)"/><circle cx="306.8" cy="104.9" r="2.35" fill="url(#sb)"/><circle cx="308.8" cy="102.2" r="2.35" fill="url(#sb)"/><circle cx="310.8" cy="99.6" r="2.35" fill="url(#sb)"/><circle cx="312.8" cy="97" r="2.35" fill="url(#sb)"/><circle cx="314.8" cy="94.4" r="2.35" fill="url(#sb)"/><circle cx="316.9" cy="91.9" r="2.35" fill="url(#sb)"/><circle cx="319" cy="89.3" r="2.35" fill="url(#sb)"/><circle cx="321.2" cy="86.8" r="2.35" fill="url(#sb)"/><circle cx="323.3" cy="84.3" r="2.35" fill="url(#sb)"/><circle cx="325.6" cy="81.9" r="2.35" fill="url(#sb)"/><circle cx="327.9" cy="79.6" r="2.35" fill="url(#sb)"/><circle cx="330.4" cy="77.4" r="2.35" fill="url(#sb)"/><circle cx="333" cy="75.3" r="2.35" fill="url(#sb)"/><circle cx="335.6" cy="73.3" r="2.35" fill="url(#sb)"/><circle cx="338.2" cy="71.3" r="2.35" fill="url(#sb)"/><circle cx="340.7" cy="69.2" r="2.35" fill="url(#sb)"/><circle cx="343.2" cy="67" r="2.35" fill="url(#sb)"/><circle cx="345.7" cy="64.8" r="2.35" fill="url(#sb)"/><circle cx="348.1" cy="62.6" r="2.35" fill="url(#sb)"/><circle cx="350.6" cy="60.5" r="2.35" fill="url(#sb)"/><circle cx="353.3" cy="58.5" r="2.35" fill="url(#sb)"/><circle cx="355.9" cy="56.5" r="2.35" fill="url(#sb)"/><circle cx="358.6" cy="54.5" r="2.35" fill="url(#sb)"/><circle cx="361.2" cy="52.6" r="2.35" fill="url(#sb)"/><circle cx="363.8" cy="50.6" r="2.35" fill="url(#sb)"/><circle cx="366.4" cy="48.5" r="2.35" fill="url(#sb)"/><circle cx="369" cy="46.5" r="2.35" fill="url(#sb)"/><circle cx="371.7" cy="44.5" r="2.35" fill="url(#sb)"/><circle cx="374.4" cy="42.7" r="2.35" fill="url(#sb)"/><circle cx="377.3" cy="41.1" r="2.35" fill="url(#sb)"/><circle cx="380.2" cy="39.6" r="2.35" fill="url(#sb)"/><circle cx="383.2" cy="38.1" r="2.35" fill="url(#sb)"/><circle cx="386.2" cy="36.7" r="2.35" fill="url(#sb)"/><circle cx="389.2" cy="35.4" r="2.35" fill="url(#sb)"/><circle cx="392.2" cy="34.1" r="2.35" fill="url(#sb)"/><circle cx="395.3" cy="32.9" r="2.35" fill="url(#sb)"/><circle cx="398.4" cy="31.7" r="2.35" fill="url(#sb)"/><circle cx="401.5" cy="30.6" r="2.35" fill="url(#sb)"/><circle cx="404.6" cy="29.5" r="2.35" fill="url(#sb)"/><circle cx="407.8" cy="28.6" r="2.35" fill="url(#sb)"/><circle cx="411" cy="27.7" r="2.35" fill="url(#sb)"/><circle cx="414.2" cy="27.1" r="2.35" fill="url(#sb)"/><circle cx="417.5" cy="26.9" r="2.35" fill="url(#sb)"/><circle cx="420.4" cy="28.2" r="2.35" fill="url(#sb)"/><circle cx="421" cy="31.4" r="2.35" fill="url(#sb)"/><circle cx="421.1" cy="34.7" r="2.35" fill="url(#sb)"/><circle cx="421" cy="38" r="2.35" fill="url(#sb)"/><circle cx="420.7" cy="41.3" r="2.35" fill="url(#sb)"/><circle cx="420.3" cy="44.6" r="2.35" fill="url(#sb)"/><circle cx="419.8" cy="47.9" r="2.35" fill="url(#sb)"/><circle cx="419.2" cy="51.1" r="2.35" fill="url(#sb)"/><circle cx="418.4" cy="54.3" r="2.35" fill="url(#sb)"/><circle cx="417.5" cy="57.5" r="2.35" fill="url(#sb)"/><circle cx="416.5" cy="60.6" r="2.35" fill="url(#sb)"/><circle cx="415.4" cy="63.7" r="2.35" fill="url(#sb)"/><circle cx="414.3" cy="66.8" r="2.35" fill="url(#sb)"/><circle cx="413" cy="69.9" r="2.35" fill="url(#sb)"/><circle cx="411.6" cy="72.8" r="2.35" fill="url(#sb)"/><circle cx="410.1" cy="75.8" r="2.35" fill="url(#sb)"/><circle cx="408.6" cy="78.7" r="2.35" fill="url(#sb)"/><circle cx="407" cy="81.6" r="2.35" fill="url(#sb)"/><circle cx="405.3" cy="84.5" r="2.35" fill="url(#sb)"/><circle cx="403.5" cy="87.2" r="2.35" fill="url(#sb)"/><circle cx="401.6" cy="89.9" r="2.35" fill="url(#sb)"/><circle cx="399.5" cy="92.4" r="2.35" fill="url(#sb)"/><circle cx="397.2" cy="94.8" r="2.35" fill="url(#sb)"/><circle cx="394.9" cy="97.2" r="2.35" fill="url(#sb)"/><circle cx="392.5" cy="99.4" r="2.35" fill="url(#sb)"/><circle cx="389.9" cy="101.5" r="2.35" fill="url(#sb)"/><circle cx="387.2" cy="103.5" r="2.35" fill="url(#sb)"/><circle cx="384.6" cy="105.4" r="2.35" fill="url(#sb)"/><circle cx="381.9" cy="107.3" r="2.35" fill="url(#sb)"/><circle cx="379.2" cy="109.2" r="2.35" fill="url(#sb)"/><circle cx="376.5" cy="111.1" r="2.35" fill="url(#sb)"/><circle cx="373.7" cy="112.9" r="2.35" fill="url(#sb)"/><circle cx="371" cy="114.8" r="2.35" fill="url(#sb)"/><circle cx="368.3" cy="116.6" r="2.35" fill="url(#sb)"/><circle cx="365.5" cy="118.5" r="2.35" fill="url(#sb)"/><circle cx="362.7" cy="120.2" r="2.35" fill="url(#sb)"/><circle cx="359.9" cy="121.9" r="2.35" fill="url(#sb)"/><circle cx="357.1" cy="123.7" r="2.35" fill="url(#sb)"/><circle cx="354.3" cy="125.4" r="2.35" fill="url(#sb)"/><circle cx="351.6" cy="127.3" r="2.35" fill="url(#sb)"/><circle cx="349" cy="129.3" r="2.35" fill="url(#sb)"/><circle cx="346.4" cy="131.4" r="2.35" fill="url(#sb)"/><circle cx="343.9" cy="133.5" r="2.35" fill="url(#sb)"/><circle cx="341.4" cy="135.6" r="2.35" fill="url(#sb)"/><circle cx="338.7" cy="137.6" r="2.35" fill="url(#sb)"/><circle cx="336" cy="139.5" r="2.35" fill="url(#sb)"/><circle cx="333.3" cy="141.3" r="2.35" fill="url(#sb)"/><circle cx="330.5" cy="143.1" r="2.35" fill="url(#sb)"/><circle cx="327.7" cy="144.8" r="2.35" fill="url(#sb)"/><circle cx="324.9" cy="146.5" r="2.35" fill="url(#sb)"/><circle cx="322" cy="148.2" r="2.35" fill="url(#sb)"/><circle cx="319.1" cy="149.8" r="2.35" fill="url(#sb)"/><circle cx="316.2" cy="151.4" r="2.35" fill="url(#sb)"/><circle cx="313.3" cy="152.8" r="2.35" fill="url(#sb)"/><circle cx="310.2" cy="154.2" r="2.35" fill="url(#sb)"/><circle cx="307.2" cy="155.4" r="2.35" fill="url(#sb)"/><circle cx="304.1" cy="156.6" r="2.35" fill="url(#sb)"/><circle cx="301" cy="157.6" r="2.35" fill="url(#sb)"/><circle cx="297.8" cy="158.6" r="2.35" fill="url(#sb)"/><circle cx="294.6" cy="159.4" r="2.35" fill="url(#sb)"/><circle cx="291.4" cy="160.1" r="2.35" fill="url(#sb)"/><circle cx="288.1" cy="160.6" r="2.35" fill="url(#sb)"/><circle cx="285.4" cy="159.5" r="2.35" fill="url(#sb)"/>
<circle cx="293" cy="152" r="2.35" fill="url(#sb)"/><circle cx="294.1" cy="148.9" r="2.35" fill="url(#sb)"/><circle cx="295.2" cy="145.8" r="2.35" fill="url(#sb)"/><circle cx="296.3" cy="142.7" r="2.35" fill="url(#sb)"/><circle cx="297.3" cy="139.5" r="2.35" fill="url(#sb)"/><circle cx="298.4" cy="136.4" r="2.35" fill="url(#sb)"/><circle cx="299.5" cy="133.3" r="2.35" fill="url(#sb)"/><circle cx="300.6" cy="130.2" r="2.35" fill="url(#sb)"/><circle cx="301.9" cy="127.2" r="2.35" fill="url(#sb)"/><circle cx="303.4" cy="124.2" r="2.35" fill="url(#sb)"/><circle cx="305" cy="121.3" r="2.35" fill="url(#sb)"/><circle cx="306.6" cy="118.5" r="2.35" fill="url(#sb)"/><circle cx="308.3" cy="115.6" r="2.35" fill="url(#sb)"/><circle cx="310" cy="112.8" r="2.35" fill="url(#sb)"/><circle cx="311.8" cy="110" r="2.35" fill="url(#sb)"/><circle cx="313.7" cy="107.3" r="2.35" fill="url(#sb)"/><circle cx="315.6" cy="104.6" r="2.35" fill="url(#sb)"/><circle cx="317.6" cy="102" r="2.35" fill="url(#sb)"/><circle cx="319.7" cy="99.4" r="2.35" fill="url(#sb)"/><circle cx="321.8" cy="96.9" r="2.35" fill="url(#sb)"/><circle cx="324" cy="94.4" r="2.35" fill="url(#sb)"/><circle cx="326.2" cy="92" r="2.35" fill="url(#sb)"/><circle cx="328.4" cy="89.5" r="2.35" fill="url(#sb)"/><circle cx="330.7" cy="87.2" r="2.35" fill="url(#sb)"/><circle cx="333" cy="84.8" r="2.35" fill="url(#sb)"/><circle cx="335.5" cy="82.6" r="2.35" fill="url(#sb)"/><circle cx="338" cy="80.5" r="2.35" fill="url(#sb)"/><circle cx="340.6" cy="78.5" r="2.35" fill="url(#sb)"/><circle cx="343.3" cy="76.5" r="2.35" fill="url(#sb)"/><circle cx="346" cy="74.6" r="2.35" fill="url(#sb)"/><circle cx="348.6" cy="72.7" r="2.35" fill="url(#sb)"/><circle cx="351.4" cy="70.8" r="2.35" fill="url(#sb)"/><circle cx="354.1" cy="69" r="2.35" fill="url(#sb)"/><circle cx="356.9" cy="67.1" r="2.35" fill="url(#sb)"/><circle cx="359.6" cy="65.3" r="2.35" fill="url(#sb)"/><circle cx="362.3" cy="63.4" r="2.35" fill="url(#sb)"/><circle cx="364.9" cy="61.4" r="2.35" fill="url(#sb)"/><circle cx="367.6" cy="59.5" r="2.35" fill="url(#sb)"/><circle cx="370.3" cy="57.6" r="2.35" fill="url(#sb)"/><circle cx="373" cy="55.7" r="2.35" fill="url(#sb)"/><circle cx="375.7" cy="53.8" r="2.35" fill="url(#sb)"/><circle cx="378.5" cy="52" r="2.35" fill="url(#sb)"/><circle cx="381.3" cy="50.2" r="2.35" fill="url(#sb)"/><circle cx="384" cy="48.5" r="2.35" fill="url(#sb)"/><circle cx="386.9" cy="46.8" r="2.35" fill="url(#sb)"/><circle cx="389.7" cy="45.1" r="2.35" fill="url(#sb)"/><circle cx="392.7" cy="43.6" r="2.35" fill="url(#sb)"/><circle cx="395.7" cy="42.2" r="2.35" fill="url(#sb)"/><circle cx="398.7" cy="40.9" r="2.35" fill="url(#sb)"/><circle cx="401.8" cy="39.8" r="2.35" fill="url(#sb)"/><circle cx="404.9" cy="38.7" r="2.35" fill="url(#sb)"/><circle cx="408.2" cy="38.2" r="2.35" fill="url(#sb)"/><circle cx="411.5" cy="38" r="2.35" fill="url(#sb)"/>
<circle cx="347.7" cy="123.8" r="2.35" fill="url(#sb)"/><circle cx="345" cy="125.7" r="2.35" fill="url(#sb)"/><circle cx="342.3" cy="127.6" r="2.35" fill="url(#sb)"/><circle cx="339.6" cy="129.5" r="2.35" fill="url(#sb)"/><circle cx="336.8" cy="131.3" r="2.35" fill="url(#sb)"/><circle cx="334.1" cy="133.1" r="2.35" fill="url(#sb)"/><circle cx="331.3" cy="134.8" r="2.35" fill="url(#sb)"/><circle cx="328.4" cy="136.5" r="2.35" fill="url(#sb)"/><circle cx="325.6" cy="138.2" r="2.35" fill="url(#sb)"/><circle cx="322.7" cy="139.8" r="2.35" fill="url(#sb)"/><circle cx="319.9" cy="141.5" r="2.35" fill="url(#sb)"/><circle cx="316.9" cy="143" r="2.35" fill="url(#sb)"/><circle cx="314" cy="144.5" r="2.35" fill="url(#sb)"/><circle cx="311" cy="145.8" r="2.35" fill="url(#sb)"/><circle cx="307.9" cy="147.1" r="2.35" fill="url(#sb)"/><circle cx="304.8" cy="148.2" r="2.35" fill="url(#sb)"/><circle cx="301.7" cy="149.4" r="2.35" fill="url(#sb)"/><circle cx="298.6" cy="150.5" r="2.35" fill="url(#sb)"/><circle cx="295.5" cy="151.4" r="2.35" fill="url(#sb)"/>
<circle cx="318.5" cy="125" r="2.35" fill="url(#sb)"/><circle cx="317.8" cy="121.8" r="2.35" fill="url(#sb)"/><circle cx="317.8" cy="118.5" r="2.35" fill="url(#sb)"/><circle cx="318.3" cy="115.2" r="2.35" fill="url(#sb)"/><circle cx="319.3" cy="112.1" r="2.35" fill="url(#sb)"/><circle cx="320.5" cy="109" r="2.35" fill="url(#sb)"/><circle cx="322" cy="106.1" r="2.35" fill="url(#sb)"/><circle cx="323.8" cy="103.3" r="2.35" fill="url(#sb)"/><circle cx="325.7" cy="100.6" r="2.35" fill="url(#sb)"/><circle cx="327.8" cy="98" r="2.35" fill="url(#sb)"/><circle cx="329.8" cy="95.5" r="2.35" fill="url(#sb)"/><circle cx="332" cy="93" r="2.35" fill="url(#sb)"/><circle cx="334.3" cy="90.6" r="2.35" fill="url(#sb)"/><circle cx="336.8" cy="88.4" r="2.35" fill="url(#sb)"/><circle cx="339.4" cy="86.4" r="2.35" fill="url(#sb)"/><circle cx="342" cy="84.4" r="2.35" fill="url(#sb)"/><circle cx="344.8" cy="82.6" r="2.35" fill="url(#sb)"/><circle cx="347.7" cy="81" r="2.35" fill="url(#sb)"/><circle cx="350.7" cy="79.7" r="2.35" fill="url(#sb)"/><circle cx="353.8" cy="78.5" r="2.35" fill="url(#sb)"/><circle cx="356.9" cy="77.3" r="2.35" fill="url(#sb)"/><circle cx="359.9" cy="76.1" r="2.35" fill="url(#sb)"/><circle cx="363.1" cy="75.1" r="2.35" fill="url(#sb)"/><circle cx="366.2" cy="74.1" r="2.35" fill="url(#sb)"/><circle cx="369.3" cy="73" r="2.35" fill="url(#sb)"/><circle cx="372.5" cy="72.3" r="2.35" fill="url(#sb)"/><circle cx="375.5" cy="73.6" r="2.35" fill="url(#sb)"/><circle cx="377" cy="76.5" r="2.35" fill="url(#sb)"/><circle cx="377.5" cy="79.7" r="2.35" fill="url(#sb)"/><circle cx="377.4" cy="83" r="2.35" fill="url(#sb)"/><circle cx="377.1" cy="86.3" r="2.35" fill="url(#sb)"/><circle cx="376.6" cy="89.5" r="2.35" fill="url(#sb)"/><circle cx="376" cy="92.8" r="2.35" fill="url(#sb)"/><circle cx="375.3" cy="96" r="2.35" fill="url(#sb)"/><circle cx="374.3" cy="99.2" r="2.35" fill="url(#sb)"/><circle cx="373.2" cy="102.3" r="2.35" fill="url(#sb)"/><circle cx="372" cy="105.3" r="2.35" fill="url(#sb)"/><circle cx="370.5" cy="108.3" r="2.35" fill="url(#sb)"/><circle cx="368.9" cy="111.2" r="2.35" fill="url(#sb)"/><circle cx="367.1" cy="113.9" r="2.35" fill="url(#sb)"/><circle cx="365.1" cy="116.6" r="2.35" fill="url(#sb)"/><circle cx="362.8" cy="118.9" r="2.35" fill="url(#sb)"/><circle cx="360.3" cy="121" r="2.35" fill="url(#sb)"/><circle cx="357.5" cy="122.8" r="2.35" fill="url(#sb)"/><circle cx="354.5" cy="124.3" r="2.35" fill="url(#sb)"/><circle cx="351.5" cy="125.6" r="2.35" fill="url(#sb)"/><circle cx="348.4" cy="126.7" r="2.35" fill="url(#sb)"/><circle cx="345.2" cy="127.6" r="2.35" fill="url(#sb)"/><circle cx="342" cy="128.4" r="2.35" fill="url(#sb)"/><circle cx="338.8" cy="129" r="2.35" fill="url(#sb)"/><circle cx="335.5" cy="129.5" r="2.35" fill="url(#sb)"/><circle cx="332.2" cy="129.6" r="2.35" fill="url(#sb)"/><circle cx="328.9" cy="129.4" r="2.35" fill="url(#sb)"/><circle cx="325.7" cy="129.1" r="2.35" fill="url(#sb)"/><circle cx="322.4" cy="128.3" r="2.35" fill="url(#sb)"/><circle cx="319.6" cy="126.8" r="2.35" fill="url(#sb)"/>
<circle cx="292.3" cy="121.6" r="2.9" fill="url(#sb)"/><circle cx="306" cy="103" r="2.9" fill="url(#sb)"/><circle cx="326.8" cy="77" r="2.9" fill="url(#sb)"/><circle cx="374" cy="40" r="2.9" fill="url(#sb)"/><circle cx="394" cy="40" r="2.9" fill="url(#sb)"/><circle cx="411" cy="36" r="2.9" fill="url(#sb)"/><circle cx="408" cy="41" r="2.9" fill="url(#sb)"/><circle cx="390" cy="49" r="2.9" fill="url(#sb)"/><circle cx="400" cy="50" r="2.9" fill="url(#sb)"/><circle cx="390" cy="57" r="2.9" fill="url(#sb)"/><circle cx="379" cy="59" r="2.9" fill="url(#sb)"/><circle cx="399" cy="67" r="2.9" fill="url(#sb)"/><circle cx="391" cy="68" r="2.9" fill="url(#sb)"/><circle cx="407" cy="63" r="2.9" fill="url(#sb)"/><circle cx="412" cy="57" r="2.9" fill="url(#sb)"/><circle cx="358" cy="69" r="2.9" fill="url(#sb)"/><circle cx="366" cy="59" r="2.9" fill="url(#sb)"/><circle cx="368" cy="53" r="2.9" fill="url(#sb)"/><circle cx="339" cy="97" r="2.9" fill="url(#sb)"/><circle cx="350" cy="94" r="2.9" fill="url(#sb)"/><circle cx="353" cy="88" r="2.9" fill="url(#sb)"/><circle cx="364" cy="90" r="2.9" fill="url(#sb)"/><circle cx="360" cy="84" r="2.9" fill="url(#sb)"/><circle cx="357" cy="108" r="2.9" fill="url(#sb)"/><circle cx="334" cy="115" r="2.9" fill="url(#sb)"/><circle cx="325" cy="113" r="2.9" fill="url(#sb)"/><circle cx="309" cy="128" r="2.9" fill="url(#sb)"/><circle cx="313" cy="133" r="2.9" fill="url(#sb)"/><circle cx="318" cy="130" r="2.9" fill="url(#sb)"/><circle cx="322" cy="126" r="2.9" fill="url(#sb)"/><circle cx="316" cy="138" r="2.9" fill="url(#sb)"/><circle cx="321" cy="141" r="2.9" fill="url(#sb)"/><circle cx="327" cy="136" r="2.9" fill="url(#sb)"/><circle cx="304" cy="140" r="2.9" fill="url(#sb)"/><circle cx="300" cy="147" r="2.9" fill="url(#sb)"/><circle cx="310" cy="148" r="2.9" fill="url(#sb)"/><circle cx="296" cy="132" r="2.9" fill="url(#sb)"/><circle cx="312" cy="122" r="2.9" fill="url(#sb)"/><circle cx="305" cy="133" r="2.9" fill="url(#sb)"/>
<path d="M519 152 L524 130 L526.2 117.6 L562.2 69.3 L609.4 37.9 L641 22.5 L658 24" fill="none" stroke="#000" stroke-width="1.4" stroke-linejoin="round" />
<path d="M583 104.3 L585.2 104.9 L584.4 103.4 L578.9 102.9 L578.5 102.6 L582.2 103.7 L584.4 101.3 L586.8 105.2 L585.6 105.2 L591.5 119.4 L588.8 117.8 L588.7 117.7 L592.4 118.3 L555.1 140.7 L586.8 112.6 L575 94.5 L574.6 94.6 L570.8 93.6 L571.1 95.3 L573.6 93 L570.4 92.7 L569.1 92.1 L567.9 91.4 L572.7 89.6 L569.7 88.2 L565.9 106 L562.3 96.9 L559.4 99.1 L565.8 99.9 L563.9 94.7 L566.4 96.5 L569.9 97.5 L570.6 104 L574.2 106.1 L577 109.8 L576.1 109.5 L577.5 104.2 L575.8 100.4 L589 67.8 L589.9 65.2 L595.8 64.5 L594.6 58.8 L592.9 53.3 L588.3 58.5 L595.3 55 L602.6 49.5 L606.3 54.9 L607.9 60.5 L578.9 91 L579.2 91.3 L585.3 92.4 L569.1 115.9 L567.8 118 L564.1 118.4 L561.2 120.2 L560.4 122.1 L599.9 104.1 L602.6 103.8 L605.1 109.3 L600.8 112.6 L590.6 73.5 L594.2 72.1 L597 74.9 L596.3 78.1 L599.7 78.8 L591.7 89.6 L590.7 92.7 L588.3 94 L604.6 93 L611 94.2 L603.6 63.7 L606.2 62.4 L610 63 L608.7 59.2 L612.4 56.6 L609.8 60.4 L605.6 64.8 L600.4 67.4 L580.3 80.3 L587.4 82.3 L588.9 83.7 L589.7 80.7 L592.1 85 L590.9 87.3 L591.9 84 L597.3 84.3 L596.1 77.6 L597.3 76.4 L596.8 78 L602.1 82 L601.3 85.1 L591.2 68.2 L592.5 73.8 L601.4 56.4 L598.6 61.3 L604.5 56.2 L568.5 78.9 L568.2 77.4 L567.7 75 L567 71.9 L570.9 77.3 L612.7 68.5 L607.6 68.3 L604.4 66.5 L600.8 65.2 L600.2 70.2 L598.4 65.9 L610.4 80.7 L605.7 82 L602.8 86.3 L607.5 84.9 L609.4 85.2 L605.2 87.4 L604.1 85.7 L608.3 87.4 L609 88.6 L602.4 86.5 L595.7 92 L598.1 93.2 L592.4 96.1 L594.1 93 L588.1 92.1 L589.4 92.6 L586.1 91.4 L583.9 87 L574.3 90.1 L573.5 88.4 L590.9 105.1 L594.6 105.1 L575.3 127.7 L579.9 126.4 L580.3 126.8 L580.6 122.6 L583.2 123.3 L571.9 129.2 L574.9 122.9 L580.3 90.7 L573.6 94.7 L578 96.9 L573.9 99.4 L573.8 92 L571.7 84.9 L575.5 80.3 L576.3 78.3 L570.9 70.2 L585.8 75.4 L584.5 71.7 L611 98.5 L612.5 101.6 L616.7 87.8 L619.4 89.5 L623.3 92.1 L617.7 91.8 L620.2 96.3 L596.8 83.2 L591.7 89.5 L591.9 85.4 L593.9 75.1 L599.4 79.9 L611.9 84.1 L616.1 81.7 L617.1 78.6 L581.2 102.2 L578 107.1 L611.7 107 L607.4 110.7 L606.3 106 L601.3 112.2 L596.2 110.8 L592.8 108.7 L589.1 111.6 L590.8 112.6 L588.8 112.1 L584.9 117.5 L587.2 123.4 L585.3 116.3 L612.3 94.2 L613.2 103.5 L619.8 99.9 L625 88.7 L622.6 82.4 L637.1 70.5 L635.9 70 L653.7 39.5 L654.9 40.3 L656.3 36.6 L655.7 25.6 L658.1 22.9 L655.3 29.2 L658 24 L655 33.8 L654.2 37.6 L656.9 35.3 L648.2 39.4 L652.9 47.2 L614.3 41.8 L607.6 44.9 L601.8 47.4 L609.8 49.4 L616.1 42.2 L622.7 37.2 L611.5 55 L612.6 64.3 L615.5 69.7 L590 67.6 L631.9 79.3 L612.5 42.3 L609.4 37.9 L621.4 43.2 L626.1 33.6 L629.9 33.7 L627.9 35.5 L650.4 42.9 L649.9 49.4 L651 50.5 L653.6 52.5 L634.9 56.3 L630.9 52.2 L635.7 53.7 L631.7 51.6 L635.1 43.2 L637.4 52.8 L646.5 58.8 L649.5 56 L652.7 56.4 L651.2 57.6 L651.7 54.9 L653.8 54 L651.2 52.6 L650.4 55.7 L641 22.5 L646.1 26.5 L637.1 31.5 L627.6 38 L631.2 54 L651 27.7 L653 33.9 L656.7 31.3 L622.3 58.4 L616.5 79.9 L612.6 70 L611.6 69.9 L618 71.7 L620.1 72.5 L641.6 65.5 L632.4 30.4 L642 28 L641.5 49.4 L649.4 56.9 L636.6 76 L631.3 69.4 L600 95.4 L599.7 100.9 L569.4 125 L571.8 123.1 L570.7 127.2 L573.5 128.6 L569.8 123.4 L572.2 120.2 L575.4 118.5 L575.3 121.2 L582.4 119 L545.4 125.7 L577.6 121.3 L583.4 126.2 L575.9 120 L576.7 115.5 L572.7 108.2 L569.3 113.4 L572.4 115.3 L567.9 112.5 L572.2 114.5 L564.7 110.3 L558.5 111.3 L563.4 111.1 L557.4 130.8 L556.7 132 L556.4 131.9 L553.7 129.2 L551.1 130 L550 129 L549.9 130 L550.5 126.8 L555.2 125.9 L556 121.8 L585.5 115 L582.5 110 L590.3 112 L592.5 104.3 L588.4 97.3 L592.2 104 L589.4 97.2 L605.2 92.8 L599.7 98.1 L590 95.2 L593.3 101.6 L598.6 111 L599.1 114.3 L585.7 123.4 L580.4 110.4 L570.4 106 L570.2 101.8 L560.1 104.8 L553.7 106.7 L554.8 108.4 L553.3 112.2 L538.5 125.2 L538.7 126.9 L537.9 129.7 L541.1 132.2 L540.2 133.7 L542.7 124.3 L552.9 138.6 L550 136 L529.9 154.9 L532.4 155.5 L531 155.5 L533.6 150.8 L534.2 151.6 L568.4 132.6 L565.4 131.5 L560.9 130.4 L559.6 132.3 L561.5 132.3 L544.5 122.7 L530.3 124.2 L532.5 126.5 L534.4 123.8 L529.4 120.8 L535.3 119.5 L554 116.8 L555.6 122.3 L558.8 119.7 L555.3 118.4 L557.9 111.2 L554.5 115.1 L540.3 140.5 L543.2 139.1 L538 140.3 L538.4 144.5 L536.4 140.6 L539.4 142.8 L542.8 141.2 L543.3 145.9 L547.1 142.2 L545.5 136 L552.8 143.3 L555.8 141.6 L552.8 135.8 L555.5 129.2 L555 126.5 L560.6 130.8 L566.2 131 L568.8 129.7 L571.8 131.2 L570.5 130.7 L571.6 123.4 L567.7 120.2 L563.7 113.6 L560.1 104 L555.3 100 L562 101.8 L552.4 106.7 L552.1 103 L550.5 104.7 L534.4 119.1 L538.6 118.7 L540.3 119.1 L542.8 119.4 L541.1 104.7 L539.5 110.5 L534.6 114.2 L541.3 119 L544.2 118.4 L547.9 114.8 L546.4 110.3 L544.8 104.2 L549.2 107 L553.6 128 L551 128.1 L549.6 132.2 L546.1 130.8 L545 126.9 L544.8 128.7 L544.7 132.4 L535.9 112.3 L555.2 113 L547.3 119.3 L542.9 132 L529.6 133 L531.1 130.1 L533 135.1 L552.3 126.6 L545.4 129.4 L539.6 130.4 L541.9 128.2 L538.5 130.6 L535.6 132.9 L532.6 135.8 L532.2 134.5 L550.8 111.2 L543.4 114.9 L543.1 120.4 L540.2 125.5 L540.3 127.3 L519.5 160 L524.9 149.8 L526.6 146.9 L529.1 124.1 L525.4 133.3 L530.7 134.1 L568.9 133.4 L566.9 122.3 L567.2 84.6 L587.2 72.7 L588.1 74.6 L582.5 68.6 L575.1 70.4 L573.5 77 L549.3 104.4 L548.2 102.3 L549.6 102.8 L538.9 145.9 L537.8 147.6 L541.2 149.9 L536.6 144.8 L535.3 146.9 L531.8 146.7 L564.4 126.4 L554.9 135.2 L561.4 138.8 L543.3 136.8 L544.3 140.9 L532.9 138.2 L528.4 137.8 L525.6 137.2 L523.3 141.6 L523.7 145.1 L526.6 145.7 L538.8 151.9 L534.3 155.1 L533.2 145.6 L530.5 148.1 L531.6 141.5 L528.9 155.7 L539.8 115.6 L530.9 121.4 L529.7 129.5 L532.9 128.4 L525 138 L527 135.9 L529.2 142.5 L526.5 146.4 L527.4 142.1 L569.1 133.8 L553.1 138.9 L554.4 133.1 L549 128.1 L545.4 121.8 L537.9 136.9 L549.2 108.7 L541.4 116.6 L548.4 102.6 L545 91 L547.8 104.6 L549.7 94.6 L573 90.5 L566.2 90.8 L570.8 86.7 L565.2 91.2 L563 80.7 L554 86.6 L562.2 69.3 L572.7 75 L577.7 65.1 L590.8 74.7 L601.6 72.5 L601.8 71.4 L603.5 67.9 L628.8 69.3 L637.9 67.5 L629.1 64.6 L655.1 48.2 L646.8 60.9 L642.6 57.4 L653.2 49.2 L644.5 53.2 L627.2 81 L630.3 81 L632.4 76 L625.9 74.2 L584.1 89.6 L577.8 100 L589.2 96.7 L597 93.6 L614.6 86.9 L592.1 117.1 L584.5 124.4 L562.9 124.9 L561.8 112.5 L580.8 101.4 L596.9 103.8 L614.9 100 L616.8 84.9 L612.7 74 L615 81.3 L612.5 71.5 L608.1 71.9 L610.2 62.3 L618.5 63.5 L616.9 58.4 L606.5 55.1 L613.4 76.2 L619.2 84.2 L619.3 86.2 L617.5 81.4 L623.6 77.4 L633 69.8 L643.1 64.4 L639.5 65.5 L640.4 56 L607.4 85 L625 79.1 L617.1 84.5 L626 87.6 L630.2 86.6 L596.9 57.1 L614.5 62.2 L592.6 53.5 L604.7 62 L608.6 77.9 L588.7 97.9 L598.3 112.8 L620.9 95.3 L636.8 72.3 L638 73.5 L616.4 94.3 L584.8 77.2 L559.2 86 L562.5 92.7 L560.5 89 L582.2 65 L570.4 68.3 L601.2 77.2 L569.9 103.1 L538.8 117.4 L533.5 140.6 L528.1 139 L520 150 L533.3 155 L539.1 148.9 L535.9 152.7 L548.2 145.6 L530.2 151.6 L532.1 141.7 L525.2 150.5 L525.2 141.6 L526.2 117.6 L556.6 138.7 L560.8 131 L559.2 140.5 L592.2 118.9 L553.2 90.4 L568.5 106 L539.5 106.4 L539.2 153 L593.4 118.7 L620.3 46.9 L647.8 25.3 L634.7 29.8 L654.9 48.7 L656.2 31 L634.3 35.8 L655.6 46.5 L656.2 47.1 L524.4 153.4 L641.2 28.6 L552.1 115.4 L627.1 85.7 L581.9 62.7" fill="none" stroke="#000" stroke-width="1.15" stroke-linejoin="round" />
<circle cx="526.2" cy="117.6" r="2.45" fill="url(#sb)"/><circle cx="562.2" cy="69.3" r="2.45" fill="url(#sb)"/><circle cx="609.4" cy="37.9" r="2.45" fill="url(#sb)"/><circle cx="641" cy="22.5" r="2.45" fill="url(#sb)"/><circle cx="658" cy="24" r="2.45" fill="url(#sb)"/><circle cx="520" cy="150" r="2.45" fill="url(#sb)"/><circle cx="519.5" cy="160" r="2.45" fill="url(#sb)"/><circle cx="545" cy="91" r="2.45" fill="url(#sb)"/><circle cx="594.2" cy="72.1" r="2.45" fill="url(#sb)"/><circle cx="523.7" cy="145.1" r="2.45" fill="url(#sb)"/><circle cx="561.4" cy="138.8" r="2.45" fill="url(#sb)"/><circle cx="600.8" cy="112.6" r="2.45" fill="url(#sb)"/><circle cx="615" cy="81.3" r="2.45" fill="url(#sb)"/><circle cx="601.3" cy="85.1" r="2.45" fill="url(#sb)"/><circle cx="552.1" cy="103" r="2.45" fill="url(#sb)"/><circle cx="643.1" cy="64.4" r="2.45" fill="url(#sb)"/><circle cx="602.6" cy="103.8" r="2.45" fill="url(#sb)"/><circle cx="585.3" cy="116.3" r="2.45" fill="url(#sb)"/><circle cx="654.9" cy="40.3" r="2.45" fill="url(#sb)"/><circle cx="586.8" cy="105.2" r="2.45" fill="url(#sb)"/><circle cx="570.2" cy="101.8" r="2.45" fill="url(#sb)"/><circle cx="616.4" cy="94.3" r="2.45" fill="url(#sb)"/><circle cx="573.5" cy="77" r="2.45" fill="url(#sb)"/><circle cx="567" cy="71.9" r="2.45" fill="url(#sb)"/><circle cx="584.1" cy="89.6" r="2.45" fill="url(#sb)"/><circle cx="555.1" cy="140.7" r="2.45" fill="url(#sb)"/><circle cx="541.1" cy="132.2" r="2.45" fill="url(#sb)"/><circle cx="549.7" cy="94.6" r="2.45" fill="url(#sb)"/><circle cx="625" cy="88.7" r="2.45" fill="url(#sb)"/><circle cx="621.4" cy="43.2" r="2.45" fill="url(#sb)"/><circle cx="538.8" cy="151.9" r="2.45" fill="url(#sb)"/><circle cx="538" cy="140.3" r="2.45" fill="url(#sb)"/><circle cx="611.6" cy="69.9" r="2.45" fill="url(#sb)"/><circle cx="601.4" cy="56.4" r="2.45" fill="url(#sb)"/><circle cx="535.9" cy="152.7" r="2.45" fill="url(#sb)"/><circle cx="583" cy="104.3" r="2.45" fill="url(#sb)"/><circle cx="589.2" cy="96.7" r="2.45" fill="url(#sb)"/><circle cx="563.9" cy="94.7" r="2.45" fill="url(#sb)"/><circle cx="629.9" cy="33.7" r="2.45" fill="url(#sb)"/><circle cx="605.2" cy="92.8" r="2.45" fill="url(#sb)"/><circle cx="616.8" cy="84.9" r="2.45" fill="url(#sb)"/><circle cx="652.7" cy="56.4" r="2.45" fill="url(#sb)"/><circle cx="574.3" cy="90.1" r="2.45" fill="url(#sb)"/><circle cx="591.2" cy="68.2" r="2.45" fill="url(#sb)"/><circle cx="562.9" cy="124.9" r="2.45" fill="url(#sb)"/><circle cx="596.8" cy="83.2" r="2.45" fill="url(#sb)"/><circle cx="564.7" cy="110.3" r="2.45" fill="url(#sb)"/><circle cx="634.9" cy="56.3" r="2.45" fill="url(#sb)"/><circle cx="632.4" cy="30.4" r="2.45" fill="url(#sb)"/><circle cx="526.6" cy="145.7" r="2.45" fill="url(#sb)"/><circle cx="565.8" cy="99.9" r="2.45" fill="url(#sb)"/><circle cx="592.9" cy="53.3" r="2.45" fill="url(#sb)"/><circle cx="560.9" cy="130.4" r="2.45" fill="url(#sb)"/><circle cx="579.2" cy="91.3" r="2.45" fill="url(#sb)"/><circle cx="573.6" cy="93" r="2.45" fill="url(#sb)"/><circle cx="608.6" cy="77.9" r="2.45" fill="url(#sb)"/><circle cx="529.2" cy="142.5" r="2.45" fill="url(#sb)"/><circle cx="559.2" cy="86" r="2.45" fill="url(#sb)"/><circle cx="585.3" cy="92.4" r="2.45" fill="url(#sb)"/><circle cx="550.5" cy="104.7" r="2.45" fill="url(#sb)"/><circle cx="538.5" cy="125.2" r="2.45" fill="url(#sb)"/><circle cx="523.3" cy="141.6" r="2.45" fill="url(#sb)"/><circle cx="532.1" cy="141.7" r="2.45" fill="url(#sb)"/><circle cx="607.4" cy="110.7" r="2.45" fill="url(#sb)"/><circle cx="589.4" cy="97.2" r="2.45" fill="url(#sb)"/><circle cx="555.2" cy="125.9" r="2.45" fill="url(#sb)"/><circle cx="588.1" cy="74.6" r="2.45" fill="url(#sb)"/><circle cx="553.6" cy="128" r="2.45" fill="url(#sb)"/><circle cx="583.9" cy="87" r="2.45" fill="url(#sb)"/><circle cx="653.2" cy="49.2" r="2.45" fill="url(#sb)"/><circle cx="654.2" cy="37.6" r="2.45" fill="url(#sb)"/><circle cx="581.9" cy="62.7" r="2.45" fill="url(#sb)"/><circle cx="534.3" cy="155.1" r="2.45" fill="url(#sb)"/><circle cx="646.8" cy="60.9" r="2.45" fill="url(#sb)"/><circle cx="601.8" cy="71.4" r="2.45" fill="url(#sb)"/><circle cx="531.6" cy="141.5" r="2.45" fill="url(#sb)"/><circle cx="651.7" cy="54.9" r="2.45" fill="url(#sb)"/><circle cx="609.8" cy="60.4" r="2.45" fill="url(#sb)"/><circle cx="554.5" cy="115.1" r="2.45" fill="url(#sb)"/><circle cx="597.3" cy="76.4" r="2.45" fill="url(#sb)"/><circle cx="625" cy="79.1" r="2.45" fill="url(#sb)"/><circle cx="592.5" cy="73.8" r="2.45" fill="url(#sb)"/><circle cx="656.3" cy="36.6" r="2.45" fill="url(#sb)"/><circle cx="585.2" cy="104.9" r="2.45" fill="url(#sb)"/><circle cx="592.2" cy="118.9" r="2.45" fill="url(#sb)"/><circle cx="627.1" cy="85.7" r="2.45" fill="url(#sb)"/><circle cx="610" cy="63" r="2.45" fill="url(#sb)"/><circle cx="553.3" cy="112.2" r="2.45" fill="url(#sb)"/><circle cx="592.5" cy="104.3" r="2.45" fill="url(#sb)"/><circle cx="549.2" cy="107" r="2.45" fill="url(#sb)"/><circle cx="618.5" cy="63.5" r="2.45" fill="url(#sb)"/><circle cx="588.8" cy="117.8" r="2.45" fill="url(#sb)"/><circle cx="554" cy="116.8" r="2.45" fill="url(#sb)"/><circle cx="545.5" cy="136" r="2.45" fill="url(#sb)"/><circle cx="612.7" cy="74" r="2.45" fill="url(#sb)"/><circle cx="649.5" cy="56" r="2.45" fill="url(#sb)"/><circle cx="578.9" cy="91" r="2.45" fill="url(#sb)"/><circle cx="543.3" cy="136.8" r="2.45" fill="url(#sb)"/><circle cx="604.4" cy="66.5" r="2.45" fill="url(#sb)"/><circle cx="569.1" cy="133.8" r="2.45" fill="url(#sb)"/><circle cx="545.4" cy="129.4" r="2.45" fill="url(#sb)"/><circle cx="619.2" cy="84.2" r="2.45" fill="url(#sb)"/><circle cx="577" cy="109.8" r="2.45" fill="url(#sb)"/><circle cx="570.7" cy="127.2" r="2.45" fill="url(#sb)"/><circle cx="539.1" cy="148.9" r="2.45" fill="url(#sb)"/><circle cx="554.4" cy="133.1" r="2.45" fill="url(#sb)"/><circle cx="553.7" cy="106.7" r="2.45" fill="url(#sb)"/><circle cx="564.1" cy="118.4" r="2.45" fill="url(#sb)"/><circle cx="573.9" cy="99.4" r="2.45" fill="url(#sb)"/><circle cx="617.1" cy="78.6" r="2.45" fill="url(#sb)"/><circle cx="562" cy="101.8" r="2.45" fill="url(#sb)"/><circle cx="545.4" cy="125.7" r="2.45" fill="url(#sb)"/><circle cx="570.4" cy="92.7" r="2.45" fill="url(#sb)"/><circle cx="574.6" cy="94.6" r="2.45" fill="url(#sb)"/><circle cx="596.2" cy="110.8" r="2.45" fill="url(#sb)"/><circle cx="577.5" cy="104.2" r="2.45" fill="url(#sb)"/><circle cx="611.9" cy="84.1" r="2.45" fill="url(#sb)"/><circle cx="536.6" cy="144.8" r="2.45" fill="url(#sb)"/><circle cx="651" cy="27.7" r="2.45" fill="url(#sb)"/><circle cx="556.6" cy="138.7" r="2.45" fill="url(#sb)"/><circle cx="589.9" cy="65.2" r="2.45" fill="url(#sb)"/><circle cx="596.9" cy="103.8" r="2.45" fill="url(#sb)"/><circle cx="612.6" cy="64.3" r="2.45" fill="url(#sb)"/><circle cx="605.7" cy="82" r="2.45" fill="url(#sb)"/><circle cx="549.3" cy="104.4" r="2.45" fill="url(#sb)"/><circle cx="546.4" cy="110.3" r="2.45" fill="url(#sb)"/><circle cx="525.4" cy="133.3" r="2.45" fill="url(#sb)"/><circle cx="604.6" cy="93" r="2.45" fill="url(#sb)"/><circle cx="555.3" cy="100" r="2.45" fill="url(#sb)"/><circle cx="555.2" cy="113" r="2.45" fill="url(#sb)"/><circle cx="551" cy="128.1" r="2.45" fill="url(#sb)"/><circle cx="648.2" cy="39.4" r="2.45" fill="url(#sb)"/><circle cx="532.4" cy="155.5" r="2.45" fill="url(#sb)"/><circle cx="526.5" cy="146.4" r="2.45" fill="url(#sb)"/><circle cx="653" cy="33.9" r="2.45" fill="url(#sb)"/><circle cx="607.9" cy="60.5" r="2.45" fill="url(#sb)"/><circle cx="531.1" cy="130.1" r="2.45" fill="url(#sb)"/><circle cx="563" cy="80.7" r="2.45" fill="url(#sb)"/><circle cx="620.1" cy="72.5" r="2.45" fill="url(#sb)"/><circle cx="566.9" cy="122.3" r="2.45" fill="url(#sb)"/><circle cx="548.2" cy="145.6" r="2.45" fill="url(#sb)"/><circle cx="635.1" cy="43.2" r="2.45" fill="url(#sb)"/><circle cx="546.1" cy="130.8" r="2.45" fill="url(#sb)"/><circle cx="617.7" cy="91.8" r="2.45" fill="url(#sb)"/><circle cx="568.2" cy="77.4" r="2.45" fill="url(#sb)"/><circle cx="539.4" cy="142.8" r="2.45" fill="url(#sb)"/><circle cx="644.5" cy="53.2" r="2.45" fill="url(#sb)"/><circle cx="560.4" cy="122.1" r="2.45" fill="url(#sb)"/><circle cx="622.6" cy="82.4" r="2.45" fill="url(#sb)"/><circle cx="589.1" cy="111.6" r="2.45" fill="url(#sb)"/><circle cx="575.3" cy="127.7" r="2.45" fill="url(#sb)"/><circle cx="578.9" cy="102.9" r="2.45" fill="url(#sb)"/><circle cx="609.4" cy="85.2" r="2.45" fill="url(#sb)"/><circle cx="582.5" cy="110" r="2.45" fill="url(#sb)"/><circle cx="543.4" cy="114.9" r="2.45" fill="url(#sb)"/><circle cx="573" cy="90.5" r="2.45" fill="url(#sb)"/><circle cx="540.2" cy="133.7" r="2.45" fill="url(#sb)"/><circle cx="599.7" cy="98.1" r="2.45" fill="url(#sb)"/><circle cx="590.8" cy="112.6" r="2.45" fill="url(#sb)"/><circle cx="547.3" cy="119.3" r="2.45" fill="url(#sb)"/><circle cx="577.6" cy="121.3" r="2.45" fill="url(#sb)"/><circle cx="632.4" cy="76" r="2.45" fill="url(#sb)"/><circle cx="535.6" cy="132.9" r="2.45" fill="url(#sb)"/><circle cx="608.3" cy="87.4" r="2.45" fill="url(#sb)"/><circle cx="567.9" cy="112.5" r="2.45" fill="url(#sb)"/><circle cx="559.4" cy="99.1" r="2.45" fill="url(#sb)"/><circle cx="637.1" cy="70.5" r="2.45" fill="url(#sb)"/><circle cx="560.5" cy="89" r="2.45" fill="url(#sb)"/><circle cx="611.5" cy="55" r="2.45" fill="url(#sb)"/><circle cx="628.8" cy="69.3" r="2.45" fill="url(#sb)"/><circle cx="541.2" cy="149.9" r="2.45" fill="url(#sb)"/><circle cx="596.9" cy="57.1" r="2.45" fill="url(#sb)"/><circle cx="588.7" cy="97.9" r="2.45" fill="url(#sb)"/><circle cx="584.4" cy="101.3" r="2.45" fill="url(#sb)"/><circle cx="638" cy="73.5" r="2.45" fill="url(#sb)"/><circle cx="655.3" cy="29.2" r="2.45" fill="url(#sb)"/><circle cx="569.7" cy="88.2" r="2.45" fill="url(#sb)"/><circle cx="577.8" cy="100" r="2.45" fill="url(#sb)"/><circle cx="559.2" cy="140.5" r="2.45" fill="url(#sb)"/><circle cx="560.1" cy="104.8" r="2.45" fill="url(#sb)"/><circle cx="605.1" cy="109.3" r="2.45" fill="url(#sb)"/><circle cx="577.7" cy="65.1" r="2.45" fill="url(#sb)"/><circle cx="609.8" cy="49.4" r="2.45" fill="url(#sb)"/><circle cx="656.2" cy="31" r="2.45" fill="url(#sb)"/><circle cx="634.7" cy="29.8" r="2.45" fill="url(#sb)"/><circle cx="569.9" cy="103.1" r="2.45" fill="url(#sb)"/><circle cx="569.3" cy="113.4" r="2.45" fill="url(#sb)"/><circle cx="598.6" cy="61.3" r="2.45" fill="url(#sb)"/><circle cx="603.6" cy="63.7" r="2.45" fill="url(#sb)"/><circle cx="651.2" cy="52.6" r="2.45" fill="url(#sb)"/><circle cx="614.6" cy="86.9" r="2.45" fill="url(#sb)"/><circle cx="553.7" cy="129.2" r="2.45" fill="url(#sb)"/><circle cx="585.6" cy="105.2" r="2.45" fill="url(#sb)"/><circle cx="618" cy="71.7" r="2.45" fill="url(#sb)"/><circle cx="575" cy="94.5" r="2.45" fill="url(#sb)"/><circle cx="539.5" cy="106.4" r="2.45" fill="url(#sb)"/><circle cx="598.3" cy="112.8" r="2.45" fill="url(#sb)"/><circle cx="613.4" cy="76.2" r="2.45" fill="url(#sb)"/><circle cx="537.9" cy="129.7" r="2.45" fill="url(#sb)"/><circle cx="614.5" cy="62.2" r="2.45" fill="url(#sb)"/><circle cx="626.1" cy="33.6" r="2.45" fill="url(#sb)"/><circle cx="620.3" cy="46.9" r="2.45" fill="url(#sb)"/><circle cx="531" cy="155.5" r="2.45" fill="url(#sb)"/><circle cx="607.5" cy="84.9" r="2.45" fill="url(#sb)"/><circle cx="619.8" cy="99.9" r="2.45" fill="url(#sb)"/><circle cx="637.9" cy="67.5" r="2.45" fill="url(#sb)"/><circle cx="525.2" cy="150.5" r="2.45" fill="url(#sb)"/><circle cx="646.1" cy="26.5" r="2.45" fill="url(#sb)"/><circle cx="548.4" cy="102.6" r="2.45" fill="url(#sb)"/><circle cx="542.9" cy="132" r="2.45" fill="url(#sb)"/><circle cx="588.3" cy="58.5" r="2.45" fill="url(#sb)"/><circle cx="525" cy="138" r="2.45" fill="url(#sb)"/><circle cx="642.6" cy="57.4" r="2.45" fill="url(#sb)"/><circle cx="636.8" cy="72.3" r="2.45" fill="url(#sb)"/><circle cx="570.4" cy="106" r="2.45" fill="url(#sb)"/><circle cx="591.9" cy="84" r="2.45" fill="url(#sb)"/><circle cx="534.4" cy="123.8" r="2.45" fill="url(#sb)"/><circle cx="641.6" cy="65.5" r="2.45" fill="url(#sb)"/><circle cx="571.9" cy="129.2" r="2.45" fill="url(#sb)"/><circle cx="588.3" cy="94" r="2.45" fill="url(#sb)"/><circle cx="553.1" cy="138.9" r="2.45" fill="url(#sb)"/><circle cx="530.9" cy="121.4" r="2.45" fill="url(#sb)"/><circle cx="600" cy="95.4" r="2.45" fill="url(#sb)"/><circle cx="531.8" cy="146.7" r="2.45" fill="url(#sb)"/><circle cx="588.1" cy="92.1" r="2.45" fill="url(#sb)"/><circle cx="608.1" cy="71.9" r="2.45" fill="url(#sb)"/><circle cx="555.3" cy="118.4" r="2.45" fill="url(#sb)"/><circle cx="606.5" cy="55.1" r="2.45" fill="url(#sb)"/><circle cx="599.1" cy="114.3" r="2.45" fill="url(#sb)"/><circle cx="619.3" cy="86.2" r="2.45" fill="url(#sb)"/><circle cx="605.2" cy="87.4" r="2.45" fill="url(#sb)"/><circle cx="590.8" cy="74.7" r="2.45" fill="url(#sb)"/><circle cx="559.6" cy="132.3" r="2.45" fill="url(#sb)"/><circle cx="526.6" cy="146.9" r="2.45" fill="url(#sb)"/><circle cx="580.3" cy="126.8" r="2.45" fill="url(#sb)"/><circle cx="567.8" cy="118" r="2.45" fill="url(#sb)"/><circle cx="535.3" cy="146.9" r="2.45" fill="url(#sb)"/><circle cx="599.4" cy="79.9" r="2.45" fill="url(#sb)"/><circle cx="571.7" cy="84.9" r="2.45" fill="url(#sb)"/><circle cx="597" cy="74.9" r="2.45" fill="url(#sb)"/><circle cx="588.9" cy="83.7" r="2.45" fill="url(#sb)"/><circle cx="599.9" cy="104.1" r="2.45" fill="url(#sb)"/><circle cx="655.1" cy="48.2" r="2.45" fill="url(#sb)"/><circle cx="591.5" cy="119.4" r="2.45" fill="url(#sb)"/><circle cx="568.5" cy="106" r="2.45" fill="url(#sb)"/><circle cx="570.9" cy="77.3" r="2.45" fill="url(#sb)"/><circle cx="580.4" cy="110.4" r="2.45" fill="url(#sb)"/><circle cx="566.4" cy="96.5" r="2.45" fill="url(#sb)"/><circle cx="590.7" cy="92.7" r="2.45" fill="url(#sb)"/><circle cx="561.2" cy="120.2" r="2.45" fill="url(#sb)"/><circle cx="599.7" cy="78.8" r="2.45" fill="url(#sb)"/><circle cx="539.6" cy="130.4" r="2.45" fill="url(#sb)"/><circle cx="567.2" cy="84.6" r="2.45" fill="url(#sb)"/><circle cx="524.9" cy="149.8" r="2.45" fill="url(#sb)"/><circle cx="606.3" cy="54.9" r="2.45" fill="url(#sb)"/><circle cx="653.8" cy="54" r="2.45" fill="url(#sb)"/><circle cx="631.2" cy="54" r="2.45" fill="url(#sb)"/><circle cx="593.9" cy="75.1" r="2.45" fill="url(#sb)"/><circle cx="635.9" cy="70" r="2.45" fill="url(#sb)"/><circle cx="612.7" cy="68.5" r="2.45" fill="url(#sb)"/><circle cx="555.8" cy="141.6" r="2.45" fill="url(#sb)"/><circle cx="601.6" cy="72.5" r="2.45" fill="url(#sb)"/><circle cx="572.4" cy="115.3" r="2.45" fill="url(#sb)"/><circle cx="639.5" cy="65.5" r="2.45" fill="url(#sb)"/><circle cx="569.1" cy="92.1" r="2.45" fill="url(#sb)"/><circle cx="612.6" cy="70" r="2.45" fill="url(#sb)"/><circle cx="552.8" cy="143.3" r="2.45" fill="url(#sb)"/><circle cx="607.6" cy="44.9" r="2.45" fill="url(#sb)"/><circle cx="561.8" cy="112.5" r="2.45" fill="url(#sb)"/><circle cx="615.5" cy="69.7" r="2.45" fill="url(#sb)"/><circle cx="533" cy="135.1" r="2.45" fill="url(#sb)"/><circle cx="529.4" cy="120.8" r="2.45" fill="url(#sb)"/><circle cx="607.4" cy="85" r="2.45" fill="url(#sb)"/><circle cx="617.5" cy="81.4" r="2.45" fill="url(#sb)"/><circle cx="595.3" cy="55" r="2.45" fill="url(#sb)"/><circle cx="568.5" cy="78.9" r="2.45" fill="url(#sb)"/><circle cx="541.4" cy="116.6" r="2.45" fill="url(#sb)"/><circle cx="545.4" cy="121.8" r="2.45" fill="url(#sb)"/><circle cx="584.5" cy="71.7" r="2.45" fill="url(#sb)"/><circle cx="529.1" cy="124.1" r="2.45" fill="url(#sb)"/><circle cx="587.4" cy="82.3" r="2.45" fill="url(#sb)"/><circle cx="650.4" cy="42.9" r="2.45" fill="url(#sb)"/><circle cx="598.6" cy="111" r="2.45" fill="url(#sb)"/><circle cx="560.1" cy="104" r="2.45" fill="url(#sb)"/><circle cx="616.1" cy="42.2" r="2.45" fill="url(#sb)"/><circle cx="656.7" cy="31.3" r="2.45" fill="url(#sb)"/><circle cx="630.3" cy="81" r="2.45" fill="url(#sb)"/><circle cx="612.3" cy="94.2" r="2.45" fill="url(#sb)"/><circle cx="580.8" cy="101.4" r="2.45" fill="url(#sb)"/><circle cx="604.7" cy="62" r="2.45" fill="url(#sb)"/><circle cx="610.2" cy="62.3" r="2.45" fill="url(#sb)"/><circle cx="544.2" cy="118.4" r="2.45" fill="url(#sb)"/><circle cx="570.6" cy="104" r="2.45" fill="url(#sb)"/><circle cx="593.3" cy="101.6" r="2.45" fill="url(#sb)"/><circle cx="533.2" cy="145.6" r="2.45" fill="url(#sb)"/><circle cx="553.2" cy="90.4" r="2.45" fill="url(#sb)"/><circle cx="549.6" cy="102.8" r="2.45" fill="url(#sb)"/><circle cx="590.9" cy="105.1" r="2.45" fill="url(#sb)"/><circle cx="636.6" cy="76" r="2.45" fill="url(#sb)"/><circle cx="602.6" cy="49.5" r="2.45" fill="url(#sb)"/><circle cx="566.2" cy="131" r="2.45" fill="url(#sb)"/><circle cx="533.3" cy="155" r="2.45" fill="url(#sb)"/><circle cx="558.8" cy="119.7" r="2.45" fill="url(#sb)"/><circle cx="537.8" cy="147.6" r="2.45" fill="url(#sb)"/><circle cx="543.2" cy="139.1" r="2.45" fill="url(#sb)"/><circle cx="573.5" cy="88.4" r="2.45" fill="url(#sb)"/><circle cx="584.4" cy="103.4" r="2.45" fill="url(#sb)"/><circle cx="600.4" cy="67.4" r="2.45" fill="url(#sb)"/><circle cx="560.8" cy="131" r="2.45" fill="url(#sb)"/><circle cx="590.3" cy="112" r="2.45" fill="url(#sb)"/><circle cx="596.3" cy="78.1" r="2.45" fill="url(#sb)"/><circle cx="581.2" cy="102.2" r="2.45" fill="url(#sb)"/><circle cx="568.4" cy="132.6" r="2.45" fill="url(#sb)"/><circle cx="642" cy="28" r="2.45" fill="url(#sb)"/><circle cx="646.5" cy="58.8" r="2.45" fill="url(#sb)"/><circle cx="555.6" cy="122.3" r="2.45" fill="url(#sb)"/><circle cx="528.4" cy="137.8" r="2.45" fill="url(#sb)"/><circle cx="649.9" cy="49.4" r="2.45" fill="url(#sb)"/><circle cx="575.4" cy="118.5" r="2.45" fill="url(#sb)"/><circle cx="565.2" cy="91.2" r="2.45" fill="url(#sb)"/><circle cx="554" cy="86.6" r="2.45" fill="url(#sb)"/><circle cx="594.6" cy="105.1" r="2.45" fill="url(#sb)"/><circle cx="611.7" cy="107" r="2.45" fill="url(#sb)"/><circle cx="561.5" cy="132.3" r="2.45" fill="url(#sb)"/><circle cx="585.5" cy="115" r="2.45" fill="url(#sb)"/><circle cx="549.9" cy="130" r="2.45" fill="url(#sb)"/><circle cx="588.8" cy="112.1" r="2.45" fill="url(#sb)"/><circle cx="532.5" cy="126.5" r="2.45" fill="url(#sb)"/><circle cx="548.2" cy="102.3" r="2.45" fill="url(#sb)"/><circle cx="555.5" cy="129.2" r="2.45" fill="url(#sb)"/><circle cx="540.3" cy="119.1" r="2.45" fill="url(#sb)"/><circle cx="582.2" cy="103.7" r="2.45" fill="url(#sb)"/><circle cx="568.9" cy="133.4" r="2.45" fill="url(#sb)"/><circle cx="543.3" cy="145.9" r="2.45" fill="url(#sb)"/><circle cx="538.7" cy="126.9" r="2.45" fill="url(#sb)"/><circle cx="541.3" cy="119" r="2.45" fill="url(#sb)"/><circle cx="658.1" cy="22.9" r="2.45" fill="url(#sb)"/><circle cx="542.8" cy="119.4" r="2.45" fill="url(#sb)"/><circle cx="623.3" cy="92.1" r="2.45" fill="url(#sb)"/><circle cx="567.9" cy="91.4" r="2.45" fill="url(#sb)"/><circle cx="622.3" cy="58.4" r="2.45" fill="url(#sb)"/><circle cx="575.8" cy="100.4" r="2.45" fill="url(#sb)"/><circle cx="611" cy="98.5" r="2.45" fill="url(#sb)"/><circle cx="572.7" cy="75" r="2.45" fill="url(#sb)"/><circle cx="650.4" cy="55.7" r="2.45" fill="url(#sb)"/><circle cx="647.8" cy="25.3" r="2.45" fill="url(#sb)"/><circle cx="563.7" cy="113.6" r="2.45" fill="url(#sb)"/><circle cx="550.8" cy="111.2" r="2.45" fill="url(#sb)"/><circle cx="571.6" cy="123.4" r="2.45" fill="url(#sb)"/><circle cx="592.8" cy="108.7" r="2.45" fill="url(#sb)"/><circle cx="563.4" cy="111.1" r="2.45" fill="url(#sb)"/><circle cx="549.2" cy="108.7" r="2.45" fill="url(#sb)"/><circle cx="620.9" cy="95.3" r="2.45" fill="url(#sb)"/><circle cx="592.4" cy="96.1" r="2.45" fill="url(#sb)"/><circle cx="592.1" cy="85" r="2.45" fill="url(#sb)"/><circle cx="617.1" cy="84.5" r="2.45" fill="url(#sb)"/><circle cx="538.6" cy="118.7" r="2.45" fill="url(#sb)"/><circle cx="570.4" cy="68.3" r="2.45" fill="url(#sb)"/><circle cx="542.7" cy="124.3" r="2.45" fill="url(#sb)"/><circle cx="637.1" cy="31.5" r="2.45" fill="url(#sb)"/><circle cx="567.7" cy="75" r="2.45" fill="url(#sb)"/><circle cx="625.9" cy="74.2" r="2.45" fill="url(#sb)"/><circle cx="602.4" cy="86.5" r="2.45" fill="url(#sb)"/><circle cx="580.3" cy="90.7" r="2.45" fill="url(#sb)"/><circle cx="623.6" cy="77.4" r="2.45" fill="url(#sb)"/><circle cx="614.9" cy="100" r="2.45" fill="url(#sb)"/><circle cx="627.9" cy="35.5" r="2.45" fill="url(#sb)"/><circle cx="528.1" cy="139" r="2.45" fill="url(#sb)"/><circle cx="529.7" cy="129.5" r="2.45" fill="url(#sb)"/><circle cx="619.4" cy="89.5" r="2.45" fill="url(#sb)"/><circle cx="616.5" cy="79.9" r="2.45" fill="url(#sb)"/><circle cx="597" cy="93.6" r="2.45" fill="url(#sb)"/><circle cx="640.4" cy="56" r="2.45" fill="url(#sb)"/><circle cx="570.8" cy="86.7" r="2.45" fill="url(#sb)"/><circle cx="562.3" cy="96.9" r="2.45" fill="url(#sb)"/><circle cx="598.4" cy="65.9" r="2.45" fill="url(#sb)"/><circle cx="641.2" cy="28.6" r="2.45" fill="url(#sb)"/><circle cx="588.7" cy="117.7" r="2.45" fill="url(#sb)"/><circle cx="530.7" cy="134.1" r="2.45" fill="url(#sb)"/><circle cx="576.7" cy="115.5" r="2.45" fill="url(#sb)"/><circle cx="600.8" cy="65.2" r="2.45" fill="url(#sb)"/><circle cx="539.2" cy="153" r="2.45" fill="url(#sb)"/><circle cx="533.5" cy="140.6" r="2.45" fill="url(#sb)"/><circle cx="602.8" cy="86.3" r="2.45" fill="url(#sb)"/><circle cx="600.2" cy="70.2" r="2.45" fill="url(#sb)"/><circle cx="612.5" cy="42.3" r="2.45" fill="url(#sb)"/><circle cx="530.5" cy="148.1" r="2.45" fill="url(#sb)"/><circle cx="588.4" cy="97.3" r="2.45" fill="url(#sb)"/><circle cx="594.1" cy="93" r="2.45" fill="url(#sb)"/><circle cx="550" cy="129" r="2.45" fill="url(#sb)"/><circle cx="573.6" cy="94.7" r="2.45" fill="url(#sb)"/><circle cx="552.4" cy="106.7" r="2.45" fill="url(#sb)"/><circle cx="576.3" cy="78.3" r="2.45" fill="url(#sb)"/><circle cx="552.3" cy="126.6" r="2.45" fill="url(#sb)"/><circle cx="530.3" cy="124.2" r="2.45" fill="url(#sb)"/><circle cx="536.4" cy="140.6" r="2.45" fill="url(#sb)"/><circle cx="565.9" cy="106" r="2.45" fill="url(#sb)"/><circle cx="532.9" cy="138.2" r="2.45" fill="url(#sb)"/><circle cx="604.1" cy="85.7" r="2.45" fill="url(#sb)"/><circle cx="556" cy="121.8" r="2.45" fill="url(#sb)"/><circle cx="534.4" cy="119.1" r="2.45" fill="url(#sb)"/><circle cx="573.8" cy="92" r="2.45" fill="url(#sb)"/><circle cx="544.3" cy="140.9" r="2.45" fill="url(#sb)"/><circle cx="569.1" cy="115.9" r="2.45" fill="url(#sb)"/><circle cx="571.1" cy="95.3" r="2.45" fill="url(#sb)"/><circle cx="525.2" cy="141.6" r="2.45" fill="url(#sb)"/><circle cx="597.3" cy="84.3" r="2.45" fill="url(#sb)"/><circle cx="573.5" cy="128.6" r="2.45" fill="url(#sb)"/><circle cx="557.4" cy="130.8" r="2.45" fill="url(#sb)"/><circle cx="631.3" cy="69.4" r="2.45" fill="url(#sb)"/><circle cx="540.3" cy="127.3" r="2.45" fill="url(#sb)"/><circle cx="652.9" cy="47.2" r="2.45" fill="url(#sb)"/><circle cx="629.1" cy="64.6" r="2.45" fill="url(#sb)"/><circle cx="626" cy="87.6" r="2.45" fill="url(#sb)"/><circle cx="558.5" cy="111.3" r="2.45" fill="url(#sb)"/><circle cx="633" cy="69.8" r="2.45" fill="url(#sb)"/><circle cx="592.1" cy="117.1" r="2.45" fill="url(#sb)"/><circle cx="613.2" cy="103.5" r="2.45" fill="url(#sb)"/><circle cx="538.8" cy="117.4" r="2.45" fill="url(#sb)"/><circle cx="527.4" cy="142.1" r="2.45" fill="url(#sb)"/><circle cx="607.6" cy="68.3" r="2.45" fill="url(#sb)"/><circle cx="547.1" cy="142.2" r="2.45" fill="url(#sb)"/><circle cx="589.7" cy="80.7" r="2.45" fill="url(#sb)"/><circle cx="601.2" cy="77.2" r="2.45" fill="url(#sb)"/><circle cx="582.4" cy="119" r="2.45" fill="url(#sb)"/><circle cx="582.5" cy="68.6" r="2.45" fill="url(#sb)"/><circle cx="545" cy="126.9" r="2.45" fill="url(#sb)"/><circle cx="598.1" cy="93.2" r="2.45" fill="url(#sb)"/><circle cx="579.9" cy="126.4" r="2.45" fill="url(#sb)"/><circle cx="547.8" cy="104.6" r="2.45" fill="url(#sb)"/><circle cx="630.2" cy="86.6" r="2.45" fill="url(#sb)"/><circle cx="586.8" cy="112.6" r="2.45" fill="url(#sb)"/><circle cx="601.3" cy="112.2" r="2.45" fill="url(#sb)"/><circle cx="584.8" cy="77.2" r="2.45" fill="url(#sb)"/><circle cx="616.7" cy="87.8" r="2.45" fill="url(#sb)"/><circle cx="651" cy="50.5" r="2.45" fill="url(#sb)"/><circle cx="649.4" cy="56.9" r="2.45" fill="url(#sb)"/><circle cx="532.2" cy="134.5" r="2.45" fill="url(#sb)"/><circle cx="606.3" cy="106" r="2.45" fill="url(#sb)"/><circle cx="534.6" cy="114.2" r="2.45" fill="url(#sb)"/><circle cx="560.6" cy="130.8" r="2.45" fill="url(#sb)"/><circle cx="591.9" cy="85.4" r="2.45" fill="url(#sb)"/><circle cx="580.6" cy="122.6" r="2.45" fill="url(#sb)"/><circle cx="569.9" cy="97.5" r="2.45" fill="url(#sb)"/><circle cx="556.4" cy="131.9" r="2.45" fill="url(#sb)"/><circle cx="575.9" cy="120" r="2.45" fill="url(#sb)"/><circle cx="539.8" cy="115.6" r="2.45" fill="url(#sb)"/><circle cx="572.2" cy="114.5" r="2.45" fill="url(#sb)"/><circle cx="569.4" cy="125" r="2.45" fill="url(#sb)"/><circle cx="552.8" cy="135.8" r="2.45" fill="url(#sb)"/><circle cx="571.8" cy="131.2" r="2.45" fill="url(#sb)"/><circle cx="637.4" cy="52.8" r="2.45" fill="url(#sb)"/><circle cx="583.2" cy="123.3" r="2.45" fill="url(#sb)"/><circle cx="549" cy="128.1" r="2.45" fill="url(#sb)"/><circle cx="592.6" cy="53.5" r="2.45" fill="url(#sb)"/><circle cx="641.5" cy="49.4" r="2.45" fill="url(#sb)"/><circle cx="583.4" cy="126.2" r="2.45" fill="url(#sb)"/><circle cx="582.2" cy="65" r="2.45" fill="url(#sb)"/><circle cx="612.5" cy="71.5" r="2.45" fill="url(#sb)"/><circle cx="611" cy="94.2" r="2.45" fill="url(#sb)"/><circle cx="537.9" cy="136.9" r="2.45" fill="url(#sb)"/><circle cx="653.6" cy="52.5" r="2.45" fill="url(#sb)"/><circle cx="540.3" cy="140.5" r="2.45" fill="url(#sb)"/><circle cx="604.5" cy="56.2" r="2.45" fill="url(#sb)"/><circle cx="592.2" cy="104" r="2.45" fill="url(#sb)"/><circle cx="541.1" cy="104.7" r="2.45" fill="url(#sb)"/><circle cx="524.4" cy="153.4" r="2.45" fill="url(#sb)"/><circle cx="552.1" cy="115.4" r="2.45" fill="url(#sb)"/><circle cx="655.6" cy="46.5" r="2.45" fill="url(#sb)"/><circle cx="543.1" cy="120.4" r="2.45" fill="url(#sb)"/><circle cx="592.4" cy="118.3" r="2.45" fill="url(#sb)"/><circle cx="584.9" cy="117.5" r="2.45" fill="url(#sb)"/><circle cx="654.9" cy="48.7" r="2.45" fill="url(#sb)"/><circle cx="550.5" cy="126.8" r="2.45" fill="url(#sb)"/><circle cx="575.5" cy="80.3" r="2.45" fill="url(#sb)"/><circle cx="614.3" cy="41.8" r="2.45" fill="url(#sb)"/><circle cx="656.2" cy="47.1" r="2.45" fill="url(#sb)"/><circle cx="601.8" cy="47.4" r="2.45" fill="url(#sb)"/><circle cx="554.9" cy="135.2" r="2.45" fill="url(#sb)"/><circle cx="566.2" cy="90.8" r="2.45" fill="url(#sb)"/><circle cx="550" cy="136" r="2.45" fill="url(#sb)"/><circle cx="544.5" cy="122.7" r="2.45" fill="url(#sb)"/><circle cx="630.9" cy="52.2" r="2.45" fill="url(#sb)"/><circle cx="612.5" cy="101.6" r="2.45" fill="url(#sb)"/><circle cx="544.8" cy="104.2" r="2.45" fill="url(#sb)"/><circle cx="578" cy="96.9" r="2.45" fill="url(#sb)"/><circle cx="612.4" cy="56.6" r="2.45" fill="url(#sb)"/><circle cx="549.6" cy="132.2" r="2.45" fill="url(#sb)"/><circle cx="590" cy="95.2" r="2.45" fill="url(#sb)"/><circle cx="620.2" cy="96.3" r="2.45" fill="url(#sb)"/><circle cx="572.7" cy="89.6" r="2.45" fill="url(#sb)"/><circle cx="585.7" cy="123.4" r="2.45" fill="url(#sb)"/><circle cx="608.7" cy="59.2" r="2.45" fill="url(#sb)"/><circle cx="606.2" cy="62.4" r="2.45" fill="url(#sb)"/><circle cx="655.7" cy="25.6" r="2.45" fill="url(#sb)"/><circle cx="627.6" cy="38" r="2.45" fill="url(#sb)"/><circle cx="627.2" cy="81" r="2.45" fill="url(#sb)"/><circle cx="656.9" cy="35.3" r="2.45" fill="url(#sb)"/><circle cx="622.7" cy="37.2" r="2.45" fill="url(#sb)"/><circle cx="655" cy="33.8" r="2.45" fill="url(#sb)"/><circle cx="538.4" cy="144.5" r="2.45" fill="url(#sb)"/><circle cx="541.9" cy="128.2" r="2.45" fill="url(#sb)"/><circle cx="570.9" cy="70.2" r="2.45" fill="url(#sb)"/><circle cx="631.7" cy="51.6" r="2.45" fill="url(#sb)"/><circle cx="591.7" cy="89.6" r="2.45" fill="url(#sb)"/><circle cx="602.1" cy="82" r="2.45" fill="url(#sb)"/><circle cx="571.8" cy="123.1" r="2.45" fill="url(#sb)"/><circle cx="564.4" cy="126.4" r="2.45" fill="url(#sb)"/><circle cx="595.7" cy="92" r="2.45" fill="url(#sb)"/><circle cx="578" cy="107.1" r="2.45" fill="url(#sb)"/><circle cx="590.9" cy="87.3" r="2.45" fill="url(#sb)"/><circle cx="527" cy="135.9" r="2.45" fill="url(#sb)"/><circle cx="565.4" cy="131.5" r="2.45" fill="url(#sb)"/><circle cx="576.1" cy="109.5" r="2.45" fill="url(#sb)"/><circle cx="562.5" cy="92.7" r="2.45" fill="url(#sb)"/><circle cx="575.1" cy="70.4" r="2.45" fill="url(#sb)"/><circle cx="567.7" cy="120.2" r="2.45" fill="url(#sb)"/><circle cx="538.9" cy="145.9" r="2.45" fill="url(#sb)"/><circle cx="653.7" cy="39.5" r="2.45" fill="url(#sb)"/><circle cx="596.1" cy="77.6" r="2.45" fill="url(#sb)"/><circle cx="533.6" cy="150.8" r="2.45" fill="url(#sb)"/><circle cx="586.1" cy="91.4" r="2.45" fill="url(#sb)"/><circle cx="609" cy="88.6" r="2.45" fill="url(#sb)"/><circle cx="572.7" cy="108.2" r="2.45" fill="url(#sb)"/><circle cx="594.6" cy="58.8" r="2.45" fill="url(#sb)"/><circle cx="525.6" cy="137.2" r="2.45" fill="url(#sb)"/><circle cx="555" cy="126.5" r="2.45" fill="url(#sb)"/><circle cx="529.9" cy="154.9" r="2.45" fill="url(#sb)"/><circle cx="544.8" cy="128.7" r="2.45" fill="url(#sb)"/><circle cx="593.4" cy="118.7" r="2.45" fill="url(#sb)"/><circle cx="603.5" cy="67.9" r="2.45" fill="url(#sb)"/><circle cx="572.2" cy="120.2" r="2.45" fill="url(#sb)"/><circle cx="631.9" cy="79.3" r="2.45" fill="url(#sb)"/><circle cx="605.6" cy="64.8" r="2.45" fill="url(#sb)"/><circle cx="554.8" cy="108.4" r="2.45" fill="url(#sb)"/><circle cx="528.9" cy="155.7" r="2.45" fill="url(#sb)"/><circle cx="538.5" cy="130.6" r="2.45" fill="url(#sb)"/><circle cx="529.6" cy="133" r="2.45" fill="url(#sb)"/><circle cx="547.9" cy="114.8" r="2.45" fill="url(#sb)"/><circle cx="578.5" cy="102.6" r="2.45" fill="url(#sb)"/><circle cx="535.9" cy="112.3" r="2.45" fill="url(#sb)"/><circle cx="552.9" cy="138.6" r="2.45" fill="url(#sb)"/><circle cx="584.5" cy="124.4" r="2.45" fill="url(#sb)"/><circle cx="634.3" cy="35.8" r="2.45" fill="url(#sb)"/><circle cx="589" cy="67.8" r="2.45" fill="url(#sb)"/><circle cx="596.8" cy="78" r="2.45" fill="url(#sb)"/><circle cx="595.8" cy="64.5" r="2.45" fill="url(#sb)"/><circle cx="557.9" cy="111.2" r="2.45" fill="url(#sb)"/><circle cx="542.8" cy="141.2" r="2.45" fill="url(#sb)"/><circle cx="651.2" cy="57.6" r="2.45" fill="url(#sb)"/><circle cx="575.3" cy="121.2" r="2.45" fill="url(#sb)"/><circle cx="532.9" cy="128.4" r="2.45" fill="url(#sb)"/><circle cx="540.2" cy="125.5" r="2.45" fill="url(#sb)"/><circle cx="599.7" cy="100.9" r="2.45" fill="url(#sb)"/><circle cx="551.1" cy="130" r="2.45" fill="url(#sb)"/><circle cx="635.7" cy="53.7" r="2.45" fill="url(#sb)"/><circle cx="585.8" cy="75.4" r="2.45" fill="url(#sb)"/><circle cx="610.4" cy="80.7" r="2.45" fill="url(#sb)"/><circle cx="539.5" cy="110.5" r="2.45" fill="url(#sb)"/><circle cx="590" cy="67.6" r="2.45" fill="url(#sb)"/><circle cx="530.2" cy="151.6" r="2.45" fill="url(#sb)"/><circle cx="616.1" cy="81.7" r="2.45" fill="url(#sb)"/><circle cx="535.3" cy="119.5" r="2.45" fill="url(#sb)"/><circle cx="569.8" cy="123.4" r="2.45" fill="url(#sb)"/><circle cx="591.7" cy="89.5" r="2.45" fill="url(#sb)"/><circle cx="570.8" cy="93.6" r="2.45" fill="url(#sb)"/><circle cx="589.4" cy="92.6" r="2.45" fill="url(#sb)"/><circle cx="556.7" cy="132" r="2.45" fill="url(#sb)"/><circle cx="590.6" cy="73.5" r="2.45" fill="url(#sb)"/><circle cx="574.9" cy="122.9" r="2.45" fill="url(#sb)"/><circle cx="568.8" cy="129.7" r="2.45" fill="url(#sb)"/><circle cx="616.9" cy="58.4" r="2.45" fill="url(#sb)"/><circle cx="532.6" cy="135.8" r="2.45" fill="url(#sb)"/><circle cx="587.2" cy="72.7" r="2.45" fill="url(#sb)"/><circle cx="587.2" cy="123.4" r="2.45" fill="url(#sb)"/><circle cx="580.3" cy="80.3" r="2.45" fill="url(#sb)"/><circle cx="544.7" cy="132.4" r="2.45" fill="url(#sb)"/><circle cx="534.2" cy="151.6" r="2.45" fill="url(#sb)"/><circle cx="574.2" cy="106.1" r="2.45" fill="url(#sb)"/><circle cx="570.5" cy="130.7" r="2.45" fill="url(#sb)"/>
<rect x="152.6" y="117.4" width="59" height="58.2" fill="#fff" stroke="#000" stroke-width="1.3"/>
<rect x="158.4" y="122.4" width="47.6" height="47.8" fill="none" stroke="#000" stroke-width="1.6"/>
<circle cx="158.4" cy="122.4" r="1.5" fill="#f02020"/>
<circle cx="206" cy="122.4" r="1.5" fill="#f02020"/>
<circle cx="158.4" cy="170.2" r="1.5" fill="#f02020"/>
<circle cx="206" cy="170.2" r="1.5" fill="#f02020"/>
<rect x="382.8" y="117.9" width="59" height="57.4" fill="#fff" stroke="#000" stroke-width="1.3"/>
<path d="M391 122.8 L435.5 122.8" fill="none" stroke="#000" stroke-width="1.25" stroke-linejoin="round" />
<path d="M391 123.9 L435.5 123.9" fill="none" stroke="#000" stroke-width="1.25" stroke-linejoin="round" />
<path d="M391 125 L435.5 125" fill="none" stroke="#000" stroke-width="1.25" stroke-linejoin="round" />
<path d="M391 126.2 L435.5 126.2" fill="none" stroke="#000" stroke-width="1.25" stroke-linejoin="round" />
<path d="M392.3 123 L392.3 166.5" fill="none" stroke="#000" stroke-width="1.25" stroke-linejoin="round" />
<path d="M393.4 123 L393.4 166.5" fill="none" stroke="#000" stroke-width="1.25" stroke-linejoin="round" />
<path d="M394.5 123 L394.5 166.5" fill="none" stroke="#000" stroke-width="1.25" stroke-linejoin="round" />
<path d="M395.6 123 L395.6 166.5" fill="none" stroke="#000" stroke-width="1.25" stroke-linejoin="round" />
<path d="M432.9 123 L432.9 157.5" fill="none" stroke="#000" stroke-width="1.25" stroke-linejoin="round" />
<path d="M434 123 L434 157.5" fill="none" stroke="#000" stroke-width="1.25" stroke-linejoin="round" />
<path d="M435.1 123 L435.1 157.5" fill="none" stroke="#000" stroke-width="1.25" stroke-linejoin="round" />
<path d="M436.2 123 L436.2 157.5" fill="none" stroke="#000" stroke-width="1.25" stroke-linejoin="round" />
<path d="M403.5 153 L436.2 153" fill="none" stroke="#000" stroke-width="1.25" stroke-linejoin="round" />
<path d="M403.5 154.6 L436.2 154.6" fill="none" stroke="#000" stroke-width="1.25" stroke-linejoin="round" />
<path d="M403.5 156.3 L436.2 156.3" fill="none" stroke="#000" stroke-width="1.25" stroke-linejoin="round" />
<path d="M403.5 158 L436.2 158" fill="none" stroke="#000" stroke-width="1.25" stroke-linejoin="round" />
<path d="M403.6 142 L403.6 165.5" fill="none" stroke="#000" stroke-width="1.25" stroke-linejoin="round" />
<path d="M405 142 L405 165.5" fill="none" stroke="#000" stroke-width="1.25" stroke-linejoin="round" />
<path d="M414.8 142 L414.8 166.5" fill="none" stroke="#000" stroke-width="1.25" stroke-linejoin="round" />
<path d="M416.4 142 L416.4 166.5" fill="none" stroke="#000" stroke-width="1.25" stroke-linejoin="round" />
<path d="M403.6 142.2 L416.4 142.2" fill="none" stroke="#000" stroke-width="1.25" stroke-linejoin="round" />
<path d="M403.6 143.4 L416.4 143.4" fill="none" stroke="#000" stroke-width="1.25" stroke-linejoin="round" />
<path d="M392.3 164.8 L416.4 164.8" fill="none" stroke="#000" stroke-width="1.25" stroke-linejoin="round" />
<path d="M392.3 166.4 L416.4 166.4" fill="none" stroke="#000" stroke-width="1.25" stroke-linejoin="round" />
<path d="M400 158.1 L409 149.5" fill="none" stroke="#000" stroke-width="1.25" stroke-linejoin="round" />
<path d="M401.4 159.6 L409.5 155.9" fill="none" stroke="#000" stroke-width="1.25" stroke-linejoin="round" />
<path d="M404.4 154.4 L408.8 149.3" fill="none" stroke="#000" stroke-width="1.25" stroke-linejoin="round" />
<circle cx="388.6" cy="122.6" r="1.6" fill="#f41414"/>
<circle cx="392.7" cy="124.5" r="1.6" fill="#f41414"/>
<circle cx="394.4" cy="126" r="1.6" fill="#f41414"/>
<circle cx="435.8" cy="122.6" r="1.6" fill="#f41414"/>
<circle cx="434.6" cy="124.2" r="1.6" fill="#f41414"/>
<circle cx="433.2" cy="125.6" r="1.6" fill="#f41414"/>
<circle cx="435.8" cy="152.2" r="1.6" fill="#f41414"/>
<circle cx="435" cy="155" r="1.6" fill="#f41414"/>
<circle cx="433.6" cy="158.1" r="1.6" fill="#f41414"/>
<circle cx="392.7" cy="166.1" r="1.6" fill="#f41414"/>
<circle cx="394" cy="164.6" r="1.6" fill="#f41414"/>
<circle cx="391.9" cy="167" r="1.6" fill="#f41414"/>
<circle cx="416" cy="166.1" r="1.6" fill="#f41414"/>
<circle cx="414.6" cy="164.7" r="1.6" fill="#f41414"/>
<circle cx="403.6" cy="142" r="1.6" fill="#f41414"/>
<circle cx="416" cy="142" r="1.6" fill="#f41414"/>
<circle cx="414.6" cy="144.2" r="1.6" fill="#f41414"/>
<circle cx="406.6" cy="150" r="1.6" fill="#f41414"/>
<circle cx="408.8" cy="149.3" r="1.6" fill="#f41414"/>
<circle cx="409.5" cy="155.9" r="1.6" fill="#f41414"/>
<circle cx="404.4" cy="154.4" r="1.6" fill="#f41414"/>
<circle cx="400" cy="158.1" r="1.6" fill="#f41414"/>
<circle cx="401.4" cy="159.6" r="1.6" fill="#f41414"/>
<circle cx="399.3" cy="157.4" r="1.6" fill="#f41414"/>
<circle cx="407.5" cy="152.3" r="1.6" fill="#f41414"/>
<rect x="616.8" y="117.5" width="59.2" height="57.8" fill="#fff" stroke="#000" stroke-width="1.3"/>
<path d="M622.6 125.2 L667.3 125.2 L667.6 161.7" fill="none" stroke="#000" stroke-width="1.2" stroke-linejoin="round" />
<path d="M622.6 125.2 L623.2 138.5 L624.5 159.6" fill="none" stroke="#000" stroke-width="1.0" stroke-linejoin="round" />
<path d="M650.1 138.4 L653.7 127.9 L639.8 136.2 L643.9 131.1 L653.7 138.4 L650.8 144.2 L658.1 153.7 L666.1 158.8 L655.2 150.1 L661 158.1 L647.1 161.7 L642.8 155.9 L642 162.5 L639.1 167.6 L640.6 158.1 L634 161.7 L632.5 158.1 L629.6 157.4 L626.7 155.9 L628.1 160.3 L631.1 153.3 L628.1 153 L639.1 154.4 L640.6 150.1 L648.6 157.4 L658.1 150.1 L651.5 158.8 L642 164.7 L631.1 161 L629.6 164.7 L624.5 165.4 L632.5 164.7 L635.4 153.3 L644.9 150.3 L656.6 144.9 L654.4 135.4 L641.3 141.7 L633.3 141 L628.1 134.7 L633.7 129.6 L626.7 130 L630.3 149.3 L637.6 161.7 L643.5 158.8 L636.2 158.1 L652.2 165.4 L661.7 152.7 L639.1 141.3 L625.5 145.7 L634 147.4 L645.7 166.1 L663.2 138.4 L622.6 125.2 L667.3 125.2 L632.2 126 L664.7 142.8 L667.6 161.7 L638.4 133.7 L658.8 137.6 L628.9 166.4 L624.5 159.6 L647.9 167.6 L635.4 163.9" fill="none" stroke="#000" stroke-width="1.0" stroke-linejoin="round" />
<path d="M624.5 165.4 L628.9 166.4 L635.4 163.9 L637.6 161.7 L636.2 158.1 L640.6 158.1 L642 164.7 L639.1 167.6 L634 161.7 L629.6 164.7 L631.1 161 L626.7 155.9 L628.1 153 L630.3 149.3 L634 147.4 L640.6 150.1 L639.1 154.4 L631.1 153.3 L625.5 145.7 L624.5 159.6 L628.1 160.3 L642 162.5 L648.6 157.4 L644.9 150.3 L655.2 150.1 L658.1 150.1 L658.1 153.7 L656.6 144.9 L664.7 142.8 L663.2 138.4 L650.1 138.4 L641.3 141.7 L639.8 136.2 L628.1 134.7 L633.7 129.6 L626.7 130 L643.9 131.1 L653.7 138.4 L650.8 144.2 L651.5 158.8 L647.1 161.7 L643.5 158.8 L647.9 167.6 L652.2 165.4 L642.8 155.9 L639.1 141.3 L635.4 153.3 L645.7 166.1 L661.7 152.7 L658.8 137.6 L638.4 133.7 L633.3 141 L654.4 135.4 L666.1 158.8 L667.6 161.7 L653.7 127.9 L632.5 158.1 L667.3 125.2 L622.6 125.2 L632.5 164.7 L661 158.1 L629.6 157.4 L632.2 126" fill="none" stroke="#000" stroke-width="1.0" stroke-linejoin="round" />
<path d="M632.2 126 L658.8 137.6" fill="none" stroke="#000" stroke-width="1.0" stroke-linejoin="round" />
<path d="M626.7 130 L663.2 138.4" fill="none" stroke="#000" stroke-width="1.0" stroke-linejoin="round" />
<path d="M643.9 131.1 L658.1 150.1" fill="none" stroke="#000" stroke-width="1.0" stroke-linejoin="round" />
<path d="M638.4 133.7 L664.7 142.8" fill="none" stroke="#000" stroke-width="1.0" stroke-linejoin="round" />
<path d="M653.7 127.9 L633.3 141" fill="none" stroke="#000" stroke-width="1.0" stroke-linejoin="round" />
<path d="M654.4 135.4 L625.5 145.7" fill="none" stroke="#000" stroke-width="1.0" stroke-linejoin="round" />
<path d="M653.7 138.4 L628.1 153" fill="none" stroke="#000" stroke-width="1.0" stroke-linejoin="round" />
<path d="M663.2 138.4 L629.6 157.4" fill="none" stroke="#000" stroke-width="1.0" stroke-linejoin="round" />
<path d="M656.6 144.9 L661 158.1" fill="none" stroke="#000" stroke-width="1.0" stroke-linejoin="round" />
<path d="M639.8 136.2 L666.1 158.8" fill="none" stroke="#000" stroke-width="1.0" stroke-linejoin="round" />
<path d="M628.1 134.7 L650.8 144.2" fill="none" stroke="#000" stroke-width="1.0" stroke-linejoin="round" />
<circle cx="622.6" cy="125.2" r="1.75" fill="#f41414"/><circle cx="632.2" cy="126" r="1.75" fill="#f41414"/><circle cx="653.7" cy="127.9" r="1.75" fill="#f41414"/><circle cx="667.3" cy="125.2" r="1.75" fill="#f41414"/><circle cx="626.7" cy="130" r="1.75" fill="#f41414"/><circle cx="633.7" cy="129.6" r="1.75" fill="#f41414"/><circle cx="643.9" cy="131.1" r="1.75" fill="#f41414"/><circle cx="628.1" cy="134.7" r="1.75" fill="#f41414"/><circle cx="638.4" cy="133.7" r="1.75" fill="#f41414"/><circle cx="639.8" cy="136.2" r="1.75" fill="#f41414"/><circle cx="650.1" cy="138.4" r="1.75" fill="#f41414"/><circle cx="654.4" cy="135.4" r="1.75" fill="#f41414"/><circle cx="653.7" cy="138.4" r="1.75" fill="#f41414"/><circle cx="658.8" cy="137.6" r="1.75" fill="#f41414"/><circle cx="663.2" cy="138.4" r="1.75" fill="#f41414"/><circle cx="664.7" cy="142.8" r="1.75" fill="#f41414"/><circle cx="633.3" cy="141" r="1.75" fill="#f41414"/><circle cx="639.1" cy="141.3" r="1.75" fill="#f41414"/><circle cx="641.3" cy="141.7" r="1.75" fill="#f41414"/><circle cx="650.8" cy="144.2" r="1.75" fill="#f41414"/><circle cx="656.6" cy="144.9" r="1.75" fill="#f41414"/><circle cx="625.5" cy="145.7" r="1.75" fill="#f41414"/><circle cx="634" cy="147.4" r="1.75" fill="#f41414"/><circle cx="630.3" cy="149.3" r="1.75" fill="#f41414"/><circle cx="640.6" cy="150.1" r="1.75" fill="#f41414"/><circle cx="644.9" cy="150.3" r="1.75" fill="#f41414"/><circle cx="655.2" cy="150.1" r="1.75" fill="#f41414"/><circle cx="658.1" cy="150.1" r="1.75" fill="#f41414"/><circle cx="661.7" cy="152.7" r="1.75" fill="#f41414"/><circle cx="658.1" cy="153.7" r="1.75" fill="#f41414"/><circle cx="628.1" cy="153" r="1.75" fill="#f41414"/><circle cx="631.1" cy="153.3" r="1.75" fill="#f41414"/><circle cx="635.4" cy="153.3" r="1.75" fill="#f41414"/><circle cx="639.1" cy="154.4" r="1.75" fill="#f41414"/><circle cx="642.8" cy="155.9" r="1.75" fill="#f41414"/><circle cx="626.7" cy="155.9" r="1.75" fill="#f41414"/><circle cx="629.6" cy="157.4" r="1.75" fill="#f41414"/><circle cx="632.5" cy="158.1" r="1.75" fill="#f41414"/><circle cx="636.2" cy="158.1" r="1.75" fill="#f41414"/><circle cx="640.6" cy="158.1" r="1.75" fill="#f41414"/><circle cx="643.5" cy="158.8" r="1.75" fill="#f41414"/><circle cx="648.6" cy="157.4" r="1.75" fill="#f41414"/><circle cx="651.5" cy="158.8" r="1.75" fill="#f41414"/><circle cx="661" cy="158.1" r="1.75" fill="#f41414"/><circle cx="666.1" cy="158.8" r="1.75" fill="#f41414"/><circle cx="624.5" cy="159.6" r="1.75" fill="#f41414"/><circle cx="628.1" cy="160.3" r="1.75" fill="#f41414"/><circle cx="631.1" cy="161" r="1.75" fill="#f41414"/><circle cx="634" cy="161.7" r="1.75" fill="#f41414"/><circle cx="637.6" cy="161.7" r="1.75" fill="#f41414"/><circle cx="642" cy="162.5" r="1.75" fill="#f41414"/><circle cx="647.1" cy="161.7" r="1.75" fill="#f41414"/><circle cx="667.6" cy="161.7" r="1.75" fill="#f41414"/><circle cx="624.5" cy="165.4" r="1.75" fill="#f41414"/><circle cx="628.9" cy="166.4" r="1.75" fill="#f41414"/><circle cx="632.5" cy="164.7" r="1.75" fill="#f41414"/><circle cx="635.4" cy="163.9" r="1.75" fill="#f41414"/><circle cx="639.1" cy="167.6" r="1.75" fill="#f41414"/><circle cx="645.7" cy="166.1" r="1.75" fill="#f41414"/><circle cx="652.2" cy="165.4" r="1.75" fill="#f41414"/><circle cx="647.9" cy="167.6" r="1.75" fill="#f41414"/><circle cx="629.6" cy="164.7" r="1.75" fill="#f41414"/><circle cx="642" cy="164.7" r="1.75" fill="#f41414"/>
<rect x="37.9" y="3.3" width="175.9" height="175.3" fill="none" stroke="#000" stroke-width="1.55"/>
<rect x="269.5" y="3" width="176.1" height="175.8" fill="none" stroke="#000" stroke-width="1.55"/>
<rect x="502.1" y="2.7" width="175.4" height="175.6" fill="none" stroke="#000" stroke-width="1.55"/>
<line x1="53.9" y1="178.6" x2="53.9" y2="176.1" stroke="#000" stroke-width="1.1"/>
<line x1="93.8" y1="178.6" x2="93.8" y2="176.1" stroke="#000" stroke-width="1.1"/>
<line x1="133.8" y1="178.6" x2="133.8" y2="176.1" stroke="#000" stroke-width="1.1"/>
<line x1="173.7" y1="178.6" x2="173.7" y2="176.1" stroke="#000" stroke-width="1.1"/>
<line x1="38.1" y1="162.2" x2="40.6" y2="162.2" stroke="#000" stroke-width="1.1"/>
<line x1="38.1" y1="122.3" x2="40.6" y2="122.3" stroke="#000" stroke-width="1.1"/>
<line x1="38.1" y1="82.4" x2="40.6" y2="82.4" stroke="#000" stroke-width="1.1"/>
<line x1="38.1" y1="42.6" x2="40.6" y2="42.6" stroke="#000" stroke-width="1.1"/>
<line x1="285.5" y1="178.2" x2="285.5" y2="175.7" stroke="#000" stroke-width="1.1"/>
<line x1="325.5" y1="178.2" x2="325.5" y2="175.7" stroke="#000" stroke-width="1.1"/>
<line x1="365.4" y1="178.2" x2="365.4" y2="175.7" stroke="#000" stroke-width="1.1"/>
<line x1="405.4" y1="178.2" x2="405.4" y2="175.7" stroke="#000" stroke-width="1.1"/>
<line x1="269.5" y1="162.9" x2="272" y2="162.9" stroke="#000" stroke-width="1.1"/>
<line x1="269.5" y1="122.9" x2="272" y2="122.9" stroke="#000" stroke-width="1.1"/>
<line x1="269.5" y1="82.9" x2="272" y2="82.9" stroke="#000" stroke-width="1.1"/>
<line x1="269.5" y1="42.9" x2="272" y2="42.9" stroke="#000" stroke-width="1.1"/>
<line x1="519.3" y1="178.3" x2="519.3" y2="175.8" stroke="#000" stroke-width="1.1"/>
<line x1="559.3" y1="178.3" x2="559.3" y2="175.8" stroke="#000" stroke-width="1.1"/>
<line x1="599.3" y1="178.3" x2="599.3" y2="175.8" stroke="#000" stroke-width="1.1"/>
<line x1="639.3" y1="178.3" x2="639.3" y2="175.8" stroke="#000" stroke-width="1.1"/>
<line x1="502.4" y1="160.3" x2="504.9" y2="160.3" stroke="#000" stroke-width="1.1"/>
<line x1="502.4" y1="120.8" x2="504.9" y2="120.8" stroke="#000" stroke-width="1.1"/>
<line x1="502.4" y1="81.2" x2="504.9" y2="81.2" stroke="#000" stroke-width="1.1"/>
<line x1="502.4" y1="41.7" x2="504.9" y2="41.7" stroke="#000" stroke-width="1.1"/>
<text x="19.3" y="16.6" font-size="16" text-anchor="start" font-family="Liberation Serif" font-weight="bold" >30</text>
<text x="20.1" y="91" font-size="16" text-anchor="start" font-family="Liberation Serif" font-weight="bold" >15</text>
<text x="26.4" y="166.8" font-size="16" text-anchor="start" font-family="Liberation Serif" font-weight="bold" >0</text>
<text x="51" y="196.6" font-size="16" text-anchor="start" font-family="Liberation Serif" font-weight="bold" >0</text>
<text x="124.4" y="196.6" font-size="16" text-anchor="start" font-family="Liberation Serif" font-weight="bold" >15</text>
<text x="205.1" y="196.6" font-size="16" text-anchor="start" font-family="Liberation Serif" font-weight="bold" >30</text>
<text x="40.4" y="17" font-size="16" text-anchor="start" font-family="Liberation Serif" font-weight="bold" >(a)</text>
<text x="87" y="46.9" font-size="16" text-anchor="start" font-family="Liberation Serif" font-weight="bold" >5ns</text>
<text x="174" y="110.6" font-size="16" text-anchor="start" font-family="Liberation Serif" font-weight="bold" >5us</text>
<text x="248.9" y="17" font-size="16" text-anchor="start" font-family="Liberation Serif" font-weight="bold" >50</text>
<text x="249.1" y="91" font-size="16" text-anchor="start" font-family="Liberation Serif" font-weight="bold" >25</text>
<text x="253.1" y="169.2" font-size="16" text-anchor="start" font-family="Liberation Serif" font-weight="bold" >0</text>
<text x="282.6" y="195.1" font-size="16" text-anchor="start" font-family="Liberation Serif" font-weight="bold" >0</text>
<text x="353" y="196.2" font-size="16" text-anchor="start" font-family="Liberation Serif" font-weight="bold" >25</text>
<text x="435.4" y="196.2" font-size="16" text-anchor="start" font-family="Liberation Serif" font-weight="bold" >50</text>
<text x="269.6" y="17" font-size="16" text-anchor="start" font-family="Liberation Serif" font-weight="bold" >(b)</text>
<text x="318.1" y="42.5" font-size="16" text-anchor="start" font-family="Liberation Serif" font-weight="bold" >5ns</text>
<text x="409.8" y="114.4" font-size="16" text-anchor="start" font-family="Liberation Serif" font-weight="bold" >5us</text>
<text x="482" y="16.6" font-size="16" text-anchor="start" font-family="Liberation Serif" font-weight="bold" >60</text>
<text x="481.9" y="91" font-size="16" text-anchor="start" font-family="Liberation Serif" font-weight="bold" >30</text>
<text x="487.2" y="164.8" font-size="16" text-anchor="start" font-family="Liberation Serif" font-weight="bold" >0</text>
<text x="515" y="193.4" font-size="16" text-anchor="start" font-family="Liberation Serif" font-weight="bold" >0</text>
<text x="589.9" y="194" font-size="16" text-anchor="start" font-family="Liberation Serif" font-weight="bold" >30</text>
<text x="667.4" y="194" font-size="16" text-anchor="start" font-family="Liberation Serif" font-weight="bold" >60</text>
<text x="502.2" y="16.4" font-size="16" text-anchor="start" font-family="Liberation Serif" font-weight="bold" >(c)</text>
<text x="566.1" y="38.8" font-size="16" text-anchor="start" font-family="Liberation Serif" font-weight="bold" >5ns</text>
<text x="641" y="112.9" font-size="16" text-anchor="start" font-family="Liberation Serif" font-weight="bold" >5us</text>
<text x="0" y="0" font-size="15" text-anchor="middle" font-family="Liberation Serif" transform="translate(121 212.5) scale(0.9 1)"><tspan font-weight="bold">F</tspan>[<tspan font-weight="bold">x</tspan>(<tspan font-style="italic" font-weight="bold">t</tspan> − <tspan font-style="italic">τ</tspan><tspan font-size="10" dy="2.5" font-weight="bold">D</tspan><tspan dy="-2.5">)]</tspan></text>
<text x="0" y="0" font-size="15" text-anchor="middle" font-family="Liberation Serif" transform="translate(361.7 212) scale(0.9 1)"><tspan font-weight="bold">F</tspan>[<tspan font-weight="bold">x</tspan>(<tspan font-style="italic" font-weight="bold">t</tspan> − <tspan font-style="italic">τ</tspan><tspan font-size="10" dy="2.5" font-weight="bold">D</tspan><tspan dy="-2.5">)]</tspan></text>
<text x="0" y="0" font-size="15" text-anchor="middle" font-family="Liberation Serif" transform="translate(597.7 211.2) scale(0.9 1)"><tspan font-weight="bold">F</tspan>[<tspan font-weight="bold">x</tspan>(<tspan font-style="italic" font-weight="bold">t</tspan> − <tspan font-style="italic">τ</tspan><tspan font-size="10" dy="2.5" font-weight="bold">D</tspan><tspan dy="-2.5">)]</tspan></text>
<text x="0" y="0" font-size="15" text-anchor="middle" font-family="Liberation Serif" transform="translate(12 96.5) rotate(-90) scale(0.9 1)"><tspan font-weight="bold">F</tspan>[<tspan font-weight="bold">x</tspan>(<tspan font-style="italic" font-weight="bold">t</tspan>)]</text>
<text x="0" y="0" font-size="15" text-anchor="middle" font-family="Liberation Serif" transform="translate(237 94.5) rotate(-90) scale(0.9 1)"><tspan font-weight="bold">F</tspan>[<tspan font-weight="bold">x</tspan>(<tspan font-style="italic" font-weight="bold">t</tspan>)]</text>
<text x="0" y="0" font-size="15" text-anchor="middle" font-family="Liberation Serif" transform="translate(463.5 89.5) rotate(-90) scale(0.9 1)"><tspan font-weight="bold">F</tspan>[<tspan font-weight="bold">x</tspan>(<tspan font-style="italic" font-weight="bold">t</tspan>)]</text>
<rect x="37.8" y="246.6" width="176.3" height="156.4" fill="none" stroke="#000" stroke-width="1.55"/><line x1="37.8" y1="403" x2="37.8" y2="400.5" stroke="#000" stroke-width="1.1"/><line x1="81.9" y1="403" x2="81.9" y2="400.5" stroke="#000" stroke-width="1.1"/><line x1="126" y1="403" x2="126" y2="400.5" stroke="#000" stroke-width="1.1"/><line x1="170" y1="403" x2="170" y2="400.5" stroke="#000" stroke-width="1.1"/><line x1="214.1" y1="403" x2="214.1" y2="400.5" stroke="#000" stroke-width="1.1"/><line x1="37.8" y1="259.4" x2="40.3" y2="259.4" stroke="#000" stroke-width="1.1"/><line x1="37.8" y1="292.4" x2="40.3" y2="292.4" stroke="#000" stroke-width="1.1"/><line x1="37.8" y1="325.4" x2="40.3" y2="325.4" stroke="#000" stroke-width="1.1"/><line x1="37.8" y1="358.4" x2="40.3" y2="358.4" stroke="#000" stroke-width="1.1"/><line x1="37.8" y1="391.4" x2="40.3" y2="391.4" stroke="#000" stroke-width="1.1"/>
<rect x="273.7" y="249" width="176" height="156.2" fill="none" stroke="#000" stroke-width="1.55"/><line x1="273.7" y1="405.2" x2="273.7" y2="402.7" stroke="#000" stroke-width="1.1"/><line x1="317.7" y1="405.2" x2="317.7" y2="402.7" stroke="#000" stroke-width="1.1"/><line x1="361.7" y1="405.2" x2="361.7" y2="402.7" stroke="#000" stroke-width="1.1"/><line x1="405.7" y1="405.2" x2="405.7" y2="402.7" stroke="#000" stroke-width="1.1"/><line x1="449.7" y1="405.2" x2="449.7" y2="402.7" stroke="#000" stroke-width="1.1"/><line x1="273.7" y1="261.4" x2="276.2" y2="261.4" stroke="#000" stroke-width="1.1"/><line x1="273.7" y1="294.4" x2="276.2" y2="294.4" stroke="#000" stroke-width="1.1"/><line x1="273.7" y1="327.4" x2="276.2" y2="327.4" stroke="#000" stroke-width="1.1"/><line x1="273.7" y1="360.4" x2="276.2" y2="360.4" stroke="#000" stroke-width="1.1"/><line x1="273.7" y1="393.4" x2="276.2" y2="393.4" stroke="#000" stroke-width="1.1"/>
<rect x="504" y="248" width="176.2" height="156.4" fill="none" stroke="#000" stroke-width="1.55"/><line x1="504" y1="404.4" x2="504" y2="401.9" stroke="#000" stroke-width="1.1"/><line x1="548" y1="404.4" x2="548" y2="401.9" stroke="#000" stroke-width="1.1"/><line x1="592.1" y1="404.4" x2="592.1" y2="401.9" stroke="#000" stroke-width="1.1"/><line x1="636.2" y1="404.4" x2="636.2" y2="401.9" stroke="#000" stroke-width="1.1"/><line x1="680.2" y1="404.4" x2="680.2" y2="401.9" stroke="#000" stroke-width="1.1"/><line x1="504" y1="261" x2="506.5" y2="261" stroke="#000" stroke-width="1.1"/><line x1="504" y1="294" x2="506.5" y2="294" stroke="#000" stroke-width="1.1"/><line x1="504" y1="327" x2="506.5" y2="327" stroke="#000" stroke-width="1.1"/><line x1="504" y1="360" x2="506.5" y2="360" stroke="#000" stroke-width="1.1"/><line x1="504" y1="393" x2="506.5" y2="393" stroke="#000" stroke-width="1.1"/>
<path d="M37.8 333.8 L38.3 333.6 L38.8 333.5 L39.3 333.3 L39.8 333.2 L40.3 333.1 L40.8 332.9 L41.3 332.8 L41.8 332.6 L42.3 332.4 L42.8 332.3 L43.3 332.1 L43.8 332 L44.3 331.8 L44.8 331.6 L45.3 331.4 L45.8 331.3 L46.3 331.1 L46.8 330.9 L47.3 330.7 L47.8 330.5 L48.3 330.3 L48.8 330.1 L49.3 329.9 L49.8 329.7 L50.3 329.5 L50.8 329.3 L51.3 329.1 L51.8 328.8 L52.3 328.6 L52.8 328.4 L53.3 328.1 L53.8 327.9 L54.3 327.6 L54.8 327.3 L55.3 327.1 L55.8 326.8 L56.3 326.5 L56.8 326.2 L57.3 325.9 L57.8 325.6 L58.3 325.2 L58.8 324.9 L59.3 324.6 L59.8 324.2 L60.3 323.8 L60.8 323.4 L61.3 323 L61.8 322.6 L62.3 322.1 L62.8 321.6 L63.3 321.1 L63.8 320.6 L64.3 320 L64.8 319.4 L65.3 318.8 L65.8 318.1 L66.3 317.4 L66.8 316.6 L67.3 315.7 L67.8 314.8 L68.3 313.7 L68.8 312.5 L69.3 311.2 L69.8 309.6 L70.3 307.7 L70.5 306.6 L70.6 306.1 L70.8 305.6 L70.8 305.3 L70.8 305.1 L71 304.5 L71 303.9 L71.1 303.2 L71.2 302.6 L71.3 302.2 L71.3 301.8 L71.5 301 L71.5 300.1 L71.6 299.1 L71.8 298.1 L71.8 297.5 L71.8 296.8 L72 295.4 L72 293.8 L72.1 291.8 L72.2 289.3 L72.3 287.7 L72.3 285.9 L72.5 280.5 L72.5 267.4 L72.6 280.5 L72.8 285.9 L72.8 287.7 L72.8 289.3 L73 291.8 L73 293.8 L73.1 295.4 L73.2 296.8 L73.3 297.5 L73.3 298.1 L73.5 299.1 L73.5 300.1 L73.6 301 L73.8 301.8 L73.8 302.2 L73.8 302.6 L74 303.2 L74 303.9 L74.1 304.5 L74.2 305.1 L74.3 305.3 L74.3 305.6 L74.5 306.1 L74.5 306.6 L74.8 307.7 L75.3 309.6 L75.8 311.2 L76.3 312.5 L76.8 313.7 L77.3 314.8 L77.8 315.7 L78.3 316.6 L78.8 317.4 L79.3 318.1 L79.8 318.8 L80.3 319.4 L80.8 320 L81.3 320.6 L81.8 321.1 L82.3 321.6 L82.8 322.1 L83.3 322.6 L83.8 323 L84.3 323.4 L84.8 323.8 L85.3 324.2 L85.8 324.6 L86.3 324.9 L86.8 325.2 L87.3 325.6 L87.8 325.9 L88.3 326.2 L88.8 326.5 L89.3 326.8 L89.8 327.1 L90.3 327.3 L90.8 327.6 L91.3 327.9 L91.8 328.1 L92.3 328.4 L92.8 328.6 L93.3 328.8 L93.8 329.1 L94.3 329.3 L94.8 329.5 L95.3 329.7 L95.8 329.9 L96.3 330.1 L96.8 330.3 L97.3 330.5 L97.8 330.7 L98.3 330.9 L98.8 331.1 L99.3 331.3 L99.8 331.4 L100.3 331.6 L100.8 331.8 L101.3 332 L101.8 332.1 L102.3 332.3 L102.8 332.4 L103.3 332.6 L103.8 332.8 L104.3 332.9 L104.8 333.1 L105.3 333.2 L105.8 333.3 L106.3 332.2 L106.4 332.2 L106.8 332.3 L107.3 333.8 L107.8 333.9 L108.3 334 L108.8 334.2 L109.3 334.3 L109.8 334.4 L110.3 334.6 L110.8 334.7 L111.3 334.8 L111.8 334.9 L112.3 335.1 L112.8 335.2 L113.3 335.3 L113.8 335.4 L114.3 335.5 L114.8 335.6 L115.3 335.8 L115.8 335.9 L116.3 336 L116.8 336.1 L117.3 336.2 L117.8 336.3 L118.3 336.4 L118.8 336.5 L119.3 336.6 L119.8 336.7 L120.3 336.8 L120.8 336.9 L121.3 337 L121.8 337.1 L122.3 337.2 L122.8 337.3 L123.3 337.4 L123.8 337.5 L124.3 337.6 L124.8 337.7 L125.3 337.8 L125.8 337.9 L126.3 337.9 L126.8 338 L127.3 338.1 L127.8 338.2 L128.3 338.3 L128.8 338.4 L129.3 338.5 L129.8 338.5 L130.3 338.6 L130.8 338.7 L131.3 338.8 L131.8 338.9 L132.3 339 L132.8 339 L133.3 339.1 L133.8 339.2 L134.3 339.3 L134.8 339.3 L135.3 339.4 L135.8 339.5 L136.3 339.6 L136.8 339.6 L137.3 339.7 L137.8 339.8 L138.3 339.9 L138.8 339.9 L139.3 340 L139.8 340.1 L140.3 340.2 L140.8 341.8 L140.9 341.8 L141.3 340.3 L141.8 340.4 L142.3 340.4 L142.8 340.5 L143.3 340.6 L143.8 340.6 L144.3 340.7 L144.8 340.8 L145.3 340.8 L145.8 340.9 L146.3 341 L146.8 341 L147.3 341.1 L147.8 341.2 L148.3 341.2 L148.8 341.3 L149.3 341.4 L149.8 341.4 L150.3 341.5 L150.8 341.5 L151.3 341.6 L151.8 341.7 L152.3 341.7 L152.8 341.8 L153.3 341.8 L153.8 341.9 L154.3 342 L154.8 342 L155.3 342.1 L155.8 342.1 L156.3 342.2 L156.8 342.2 L157.3 342.3 L157.8 342.4 L158.3 342.4 L158.8 342.5 L159.3 342.5 L159.8 342.6 L160.3 342.6 L160.8 342.7 L161.3 342.7 L161.8 342.8 L162.3 342.8 L162.8 342.9 L163.3 343 L163.8 343 L164.3 343.1 L164.8 343.1 L165.3 343.2 L165.8 343.2 L166.3 343.3 L166.8 343.3 L167.3 343.4 L167.8 343.4 L168.3 343.5 L168.8 343.5 L169.3 343.6 L169.8 343.6 L170.3 343.7 L170.8 343.7 L171.3 343.8 L171.8 343.8 L172.3 343.9 L172.8 343.9 L173.3 344 L173.8 344 L174.3 344 L174.8 344.1 L175.3 344.1 L175.8 344.2 L176.3 344.2 L176.8 344.3 L177.3 344.3 L177.8 344.4 L178.3 344.4 L178.8 344.5 L179.3 344.5 L179.8 344.6 L180.3 344.6 L180.8 344.6 L181.3 344.7 L181.8 344.7 L182.3 344.8 L182.8 344.8 L183.3 344.9 L183.8 344.9 L184.3 344.9 L184.8 345 L185.3 345 L185.8 345.1 L186.3 345.1 L186.8 345.2 L187.3 345.2 L187.8 345.2 L188.3 345.3 L188.8 345.3 L189.3 345.4 L189.8 345.4 L190.3 345.4 L190.8 345.5 L191.3 345.5 L191.8 345.6 L192.3 345.6 L192.8 345.6 L193.3 345.7 L193.8 345.7 L194.3 345.8 L194.8 345.8 L195.3 345.8 L195.8 345.9 L196.3 345.9 L196.8 346 L197.3 346 L197.8 346 L198.3 346.1 L198.8 346.1 L199.3 346.2 L199.8 346.2 L200.3 346.2 L200.8 346.3 L201.3 346.3 L201.8 346.3 L202.3 346.4 L202.8 346.4 L203.3 346.4 L203.8 346.5 L204.3 346.5 L204.8 346.6 L205.3 346.6 L205.8 346.6 L206.3 346.7 L206.8 346.7 L207.3 346.7 L207.8 346.8 L208.3 346.8 L208.8 346.8 L209.3 346.9 L209.8 346.9 L210.3 346.9 L210.8 347 L211.3 347 L211.8 347.1 L212.3 347.1 L212.8 347.1 L213.3 347.2 L213.8 347.2" fill="none" stroke="#0a0afa" stroke-width="1.6" stroke-linejoin="round" />
<path d="M273.7 333.3 L274.2 333.2 L274.7 333 L275.2 332.8 L275.7 332.7 L276.2 332.5 L276.7 332.3 L277.2 332.1 L277.7 331.9 L278.2 331.7 L278.7 331.5 L279.2 331.3 L279.7 331.1 L280.2 330.9 L280.7 330.7 L281.2 330.4 L281.7 330.2 L282.2 330 L282.7 329.8 L283.2 329.5 L283.7 329.3 L284.2 329 L284.7 328.8 L285.2 328.5 L285.7 328.3 L286.2 328.1 L286.7 327.8 L287.2 327.5 L287.7 327.3 L288.2 327 L288.7 326.7 L289.2 326.5 L289.7 326.2 L290.2 325.9 L290.7 325.6 L291.2 325.2 L291.7 324.9 L292.2 324.6 L292.7 324.2 L293.2 323.9 L293.7 323.5 L294.2 323.1 L294.7 322.7 L295.2 322.3 L295.7 321.9 L296.2 321.4 L296.7 320.9 L297.2 320.4 L297.7 319.8 L298.2 319.2 L298.7 318.6 L299.2 318 L299.7 317.3 L300.2 316.6 L300.7 315.8 L301.2 315 L301.7 314.1 L302.2 313.1 L302.7 312.1 L303.2 311 L303.7 309.4 L304.2 307.3 L304.7 304.9 L305.2 302.1 L305.7 298.8 L306.2 294.9 L306.3 294.1 L306.4 293.2 L306.5 292.3 L306.6 291.3 L306.7 290.3 L306.8 289.2 L306.9 288 L307 286.7 L307.1 285.3 L307.2 283.8 L307.3 281.6 L307.4 279.2 L307.5 276.4 L307.6 273.3 L307.7 272 L307.8 270.5 L307.9 268.6 L308 266.2 L308.1 264.7 L308.2 264.7 L308.3 264.7 L308.4 264.7 L308.5 264.7 L308.6 266.2 L308.7 268.6 L308.8 270.5 L308.9 272 L309 273.3 L309.1 276.4 L309.2 279.2 L309.3 281.6 L309.4 283.8 L309.5 285.3 L309.6 286.7 L309.7 288 L309.8 289.2 L309.9 290.3 L310 291.3 L310.1 292.3 L310.2 293.2 L310.3 294.1 L310.7 297.4 L311.2 301 L311.7 304 L312.2 306.7 L312.7 309 L313.2 311 L313.7 312.9 L314.2 314.2 L314.7 314.9 L315.2 315.5 L315.7 316.1 L316.2 316.7 L316.7 317.2 L317.2 317.7 L317.7 318.1 L318.2 318.5 L318.7 319 L319.2 319.3 L319.7 319.7 L320.2 320.1 L320.7 320.4 L321.2 320.7 L321.7 321.1 L322.2 321.4 L322.7 321.7 L323.2 322 L323.7 322.2 L324.2 322.5 L324.7 322.8 L325.2 323.2 L325.7 323.5 L326.2 323.8 L326.7 324.2 L327.2 324.5 L327.7 324.8 L328.2 325.1 L328.7 325.4 L329.2 325.7 L329.7 326 L330.2 326.2 L330.7 326.5 L331.2 326.8 L331.7 327 L332.2 327.3 L332.7 327.5 L333.2 327.8 L333.7 328 L334.2 328.3 L334.7 328.5 L335.2 328.7 L335.7 328.9 L336.2 329.1 L336.7 329.4 L337.2 329.6 L337.7 329.8 L338.2 330 L338.7 330.2 L339.2 330.4 L339.7 330.6 L340.2 330.7 L340.7 330.9 L341.2 331.1 L341.7 331.4 L342.2 298 L342.7 325.4 L342.8 330.8 L343.2 330.8 L343.7 330.7 L344.2 330.6 L344.7 330.7 L345.2 330.9 L345.7 331 L346.2 331.2 L346.7 331.3 L347.2 331.5 L347.7 331.6 L348.2 331.8 L348.7 331.9 L349.2 332.1 L349.7 332.2 L350.2 332.4 L350.7 332.5 L351.2 332.6 L351.7 332.6 L352.2 332.7 L352.7 332.7 L353.2 332.8 L353.7 332.9 L354.2 332.9 L354.7 333 L355.2 333 L355.7 333.1 L356.2 333.1 L356.7 333.2 L357.2 333.2 L357.7 333.3 L358.2 333.3 L358.7 333.4 L359.2 333.4 L359.7 333.5 L360.2 333.5 L360.7 333.6 L361.2 333.6 L361.7 333.7 L362.2 333.8 L362.7 333.8 L363.2 333.9 L363.7 333.9 L364.2 334 L364.7 334 L365.2 334.1 L365.7 334.1 L366.2 334.2 L366.7 334.2 L367.2 334.3 L367.7 334.3 L368.2 334.4 L368.7 334.4 L369.2 334.5 L369.7 334.5 L370.2 334.6 L370.7 334.7 L371.2 334.7 L371.7 334.8 L372.2 334.8 L372.7 334.9 L373.2 334.9 L373.7 335 L374.2 335 L374.7 335.1 L375.2 335.2 L375.7 335.2 L376.2 335.3 L376.7 316.4 L377.2 350.5 L377.7 347 L378.2 343.5 L378.7 340 L378.8 339.3 L379.2 339.2 L379.7 339.1 L380.2 339.1 L380.7 339 L381.2 338.9 L381.7 338.9 L382.2 338.8 L382.7 338.8 L383.2 338.8 L383.7 338.8 L384.2 338.9 L384.7 338.9 L385.2 338.9 L385.7 338.9 L386.2 339 L386.7 339 L387.2 339 L387.7 339 L388.2 339.1 L388.7 339.1 L389.2 339.1 L389.7 339.2 L390.2 339.2 L390.7 339.2 L391.2 339.2 L391.7 339.3 L392.2 339.3 L392.7 339.3 L393.2 339.3 L393.7 339.4 L394.2 339.4 L394.7 339.4 L395.2 339.5 L395.7 339.5 L396.2 339.5 L396.7 339.5 L397.2 339.6 L397.7 339.6 L398.2 339.6 L398.7 339.6 L399.2 339.7 L399.7 339.7 L400.2 339.7 L400.7 339.8 L401.2 339.8 L401.7 339.8 L402.2 339.8 L402.7 339.9 L403.2 339.9 L403.7 339.9 L404.2 339.9 L404.7 340 L405.2 340 L405.7 340 L406.2 340.1 L406.7 340.1 L407.2 340.1 L407.7 340.1 L408.2 340.2 L408.7 340.2 L409.2 340.2 L409.7 340.2 L410.2 340.3 L410.7 340.3 L411.2 340.3 L411.7 340.4 L412.2 340.4 L412.7 340.5 L413.2 340.5 L413.7 340.6 L414.2 340.6 L414.7 340.7 L415.2 340.7 L415.7 340.8 L416.2 340.8 L416.7 340.9 L417.2 340.9 L417.7 340.9 L418.2 341 L418.7 341 L419.2 341.1 L419.7 341.1 L420.2 341.2 L420.7 341.2 L421.2 341.3 L421.7 341.3 L422.2 341.4 L422.7 341.4 L423.2 341.5 L423.7 341.5 L424.2 341.6 L424.7 341.6 L425.2 341.7 L425.7 341.7 L426.2 341.8 L426.7 341.8 L427.2 341.9 L427.7 341.9 L428.2 342 L428.7 342 L429.2 342 L429.7 342.1 L430.2 342.1 L430.7 342.2 L431.2 342.2 L431.7 342.3 L432.2 342.3 L432.7 342.4 L433.2 342.4 L433.7 342.5 L434.2 342.5 L434.7 342.6 L435.2 342.6 L435.7 342.7 L436.2 342.7 L436.7 342.8 L437.2 342.8 L437.7 342.9 L438.2 342.9 L438.7 343 L439.2 343 L439.7 343 L440.2 343.1 L440.7 343.1 L441.2 343.2 L441.7 343.2 L442.2 343.3 L442.7 343.3 L443.2 343.4 L443.7 343.4 L444.2 343.5 L444.7 343.5 L445.2 343.6 L445.7 343.6 L446.2 343.7 L446.7 343.7 L447.2 343.8 L447.7 343.8 L448.2 343.9 L448.7 343.9 L449.2 344 L449.7 344" fill="none" stroke="#0a0afa" stroke-width="1.6" stroke-linejoin="round" />
<path d="M504.3 327.1 L505 328.1 L505.7 328.5 L506.4 330 L507.1 327.2 L507.8 328.5 L508.5 315.4 L509.2 317.7 L509.9 325.1 L510.6 321.8 L511.3 324.6 L512 311.4 L512.7 313.7 L513.4 309.8 L514.1 313.7 L514.2 282.3 L514.8 339.3 L515.5 314.2 L516.2 303.2 L516.9 303.8 L517.6 304.7 L518.3 317.4 L518.7 339.3 L519 317.2 L519.7 303.9 L520.4 313.9 L521.1 302.1 L521.8 309.3 L522.5 300.2 L523.2 295 L523.9 312.7 L524 275.3 L524.6 302.2 L525.3 299.6 L526 315.9 L526.7 317.4 L527.4 304.4 L527.5 316 L528.1 316.3 L528.8 309.5 L529.5 310.8 L530.2 300 L530.9 314.3 L531.6 311.9 L532.3 317.7 L533 317.3 L533.7 302.8 L534.4 300.4 L534.5 266.7 L535.1 295 L535.8 293.3 L536.5 291 L537.2 296.2 L537.9 305.1 L538.3 327.6 L538.6 292.6 L539.3 306.2 L540 301.3 L540.7 299.5 L541.4 311.8 L541.7 338.3 L542.1 306.6 L542.8 301.2 L543.5 304.1 L544.1 280.6 L544.2 310.6 L544.9 296 L545.6 315.6 L546.3 296.6 L547 310.3 L547.7 316.3 L548 320 L548.4 296.8 L549.1 311.7 L549.8 304.8 L550.5 308.9 L551.2 295.5 L551.9 293.4 L552.6 296.8 L553.3 319.3 L554 304.5 L554.5 275.9 L554.7 316.9 L555.4 325.6 L556.1 328.9 L556.8 312.7 L557.1 329.7 L557.5 309.3 L558.2 314 L558.9 323.4 L559.6 305.6 L560.3 321.4 L561 327.1 L561.7 330.7 L562.4 306.1 L562.5 332.6 L563.1 328.7 L563.8 307.8 L564.5 310.6 L564.6 284.6 L565.2 341.1 L565.9 320.4 L566.6 332.6 L567.3 317.8 L568 332.6 L568.7 324.7 L569.4 315.7 L570.1 313.8 L570.5 331 L570.8 309.2 L571.5 305.2 L572.2 306.6 L572.9 324.2 L573.6 338.5 L574.3 316.1 L574.6 292 L575 307.2 L575.7 334.4 L576.4 327.2 L577.1 321.6 L577.4 339 L577.8 315.2 L578.5 324.7 L579.2 334.3 L579.6 343.3 L579.9 325.5 L580.6 322.4 L581.3 310.8 L582 333.9 L582.7 313.3 L583.4 322.1 L584.1 334.7 L584.5 295.2 L584.8 317 L584.9 345.4 L585.5 330.5 L586.2 340.3 L586.9 333.5 L587.6 336.5 L588.3 317.7 L589 322.7 L589.7 315.9 L590.4 334.1 L591.1 323.2 L591.8 325.1 L592 333 L592.5 340.7 L593.2 340.5 L593.9 343.8 L594.5 317.7 L594.6 330.6 L595.3 328.4 L596 334.3 L596.7 329.3 L597.4 323.4 L598.1 324.9 L598.8 318.9 L599.5 323.4 L600 336 L600.2 339.7 L600.9 343 L601.6 335.8 L602.3 331 L603 326.2 L603.7 319.3 L604.4 322.1 L604.5 314.5 L605.1 334.5 L605.4 354 L605.8 339.5 L606.5 329.5 L607.2 336.5 L607.9 338 L608.6 336.7 L609.3 335.8 L610 337 L610.7 337.7 L611.4 330.1 L612.1 335.2 L612.8 328.2 L613.5 330.6 L614.2 336.8 L614.4 317.7 L614.8 345.4 L614.9 336.8 L615.6 329.4 L616.3 339.8 L617 337 L617.7 335.1 L618.4 324.7 L619.1 331.7 L619.8 328.4 L620.5 334.9 L621.2 333.2 L621.9 337.7 L622.6 336.5 L623.3 337.7 L624 333.8 L624.4 331 L624.7 335.5 L624.8 345 L625.4 336.3 L626.1 336.7 L626.8 334.9 L627.5 336.5 L628.2 337 L628.9 336.5 L629.6 337.5 L630.3 337.6 L631 336.1 L631.7 335.9 L632.4 334.6 L633.1 336.6 L633.8 337.4 L634.5 336.2 L635.2 336.6 L635.9 336.8 L636.6 337 L637.3 335.5 L638 336.8 L638.7 336.7 L639.4 336.9 L640.1 336.4 L640.8 336.8 L641.5 337.3 L642.2 337.1 L642.9 337.3 L643.6 335.9 L644.3 335.9 L645 336.5 L645.7 337.2 L646.4 336.4 L647.1 337.3 L647.8 337.5 L648.5 336.3 L649.2 336.9 L649.9 336.6 L650.6 336.2 L651.3 336.3 L652 336.8 L652.7 336.7 L653.4 336.7 L654.1 336.4 L654.8 337.3 L655.5 337.4 L656.2 337.9 L656.9 338 L657.6 337.4 L658.3 338.6 L659 337.1 L659.7 337.6 L660.4 337.5 L661.1 337.8 L661.8 337.4 L662.5 338.7 L663.2 338.2 L663.9 337.4 L664.6 338.4 L665.3 337.7 L666 338.4 L666.7 338.2 L667.4 338.7 L668.1 339.6 L668.8 339.5 L669.5 338.8 L670.2 339.4 L670.9 339.3 L671.6 338.8 L672.3 338.3 L673 339.1 L673.7 339.2 L674.4 340 L675.1 340.3 L675.8 339.7 L676.5 339.2 L677.2 340 L677.9 338.7 L678.6 338.6 L679.3 339.4 L680 339.8" fill="none" stroke="#0a0afa" stroke-width="1.5" stroke-linejoin="round" />
<text x="16.1" y="264.7" font-size="16" text-anchor="start" font-family="Liberation Serif" font-weight="bold" >50</text>
<text x="22.9" y="331.2" font-size="16" text-anchor="start" font-family="Liberation Serif" font-weight="bold" >0</text>
<text x="13.5" y="400.9" font-size="16" text-anchor="start" font-family="Liberation Serif" font-weight="bold" >-50</text>
<text x="40.9" y="261.4" font-size="16" text-anchor="start" font-family="Liberation Serif" font-weight="bold" >(d)</text>
<text x="34.5" y="418.1" font-size="16" text-anchor="start" font-family="Liberation Serif" font-weight="bold" >0</text>
<text x="106.9" y="418.1" font-size="16" text-anchor="start" font-family="Liberation Serif" font-weight="bold" >0.05</text>
<text x="194.1" y="418.1" font-size="16" text-anchor="start" font-family="Liberation Serif" font-weight="bold" >0.1</text>
<text x="248.9" y="266.3" font-size="16" text-anchor="start" font-family="Liberation Serif" font-weight="bold" >50</text>
<text x="255.9" y="333.1" font-size="16" text-anchor="start" font-family="Liberation Serif" font-weight="bold" >0</text>
<text x="245.7" y="402.4" font-size="16" text-anchor="start" font-family="Liberation Serif" font-weight="bold" >-50</text>
<text x="277.1" y="262.4" font-size="16" text-anchor="start" font-family="Liberation Serif" font-weight="bold" >(e)</text>
<text x="272.4" y="418.9" font-size="16" text-anchor="start" font-family="Liberation Serif" font-weight="bold" >0</text>
<text x="345.4" y="418.9" font-size="16" text-anchor="start" font-family="Liberation Serif" font-weight="bold" >0.05</text>
<text x="432.2" y="418.9" font-size="16" text-anchor="start" font-family="Liberation Serif" font-weight="bold" >0.1</text>
<text x="482.3" y="265.8" font-size="16" text-anchor="start" font-family="Liberation Serif" font-weight="bold" >50</text>
<text x="488.9" y="331.4" font-size="16" text-anchor="start" font-family="Liberation Serif" font-weight="bold" >0</text>
<text x="478.8" y="402.4" font-size="16" text-anchor="start" font-family="Liberation Serif" font-weight="bold" >-50</text>
<text x="506.8" y="261.9" font-size="16" text-anchor="start" font-family="Liberation Serif" font-weight="bold" >(f)</text>
<text x="501.7" y="420.3" font-size="16" text-anchor="start" font-family="Liberation Serif" font-weight="bold" >0</text>
<text x="575" y="420.3" font-size="16" text-anchor="start" font-family="Liberation Serif" font-weight="bold" >0.05</text>
<text x="662.2" y="420.3" font-size="16" text-anchor="start" font-family="Liberation Serif" font-weight="bold" >0.1</text>
<text x="0" y="0" font-size="16" text-anchor="middle" font-family="Liberation Serif" font-weight="bold" transform="translate(121.3 437.8) scale(0.845 1)">Frequency(GHz)</text>
<text x="0" y="0" font-size="16" text-anchor="middle" font-family="Liberation Serif" font-weight="bold" transform="translate(361.9 438) scale(0.845 1)">Frequency(GHz)</text>
<text x="0" y="0" font-size="16" text-anchor="middle" font-family="Liberation Serif" font-weight="bold" transform="translate(594.2 437.3) scale(0.845 1)">Frequency(GHz)</text>
<text x="0" y="0" font-size="16" text-anchor="middle" font-family="Liberation Serif" font-weight="bold" transform="translate(16 330.6) rotate(-90) scale(0.915 1)">Power (dBm/Hz)</text>
<text x="0" y="0" font-size="16" text-anchor="middle" font-family="Liberation Serif" font-weight="bold" transform="translate(244.5 330.9) rotate(-90) scale(0.915 1)">Power (dBm/Hz)</text>
<text x="0" y="0" font-size="16" text-anchor="middle" font-family="Liberation Serif" font-weight="bold" transform="translate(473.5 333) rotate(-90) scale(0.915 1)">Power (dBm/Hz)</text></svg>
</body></html>
